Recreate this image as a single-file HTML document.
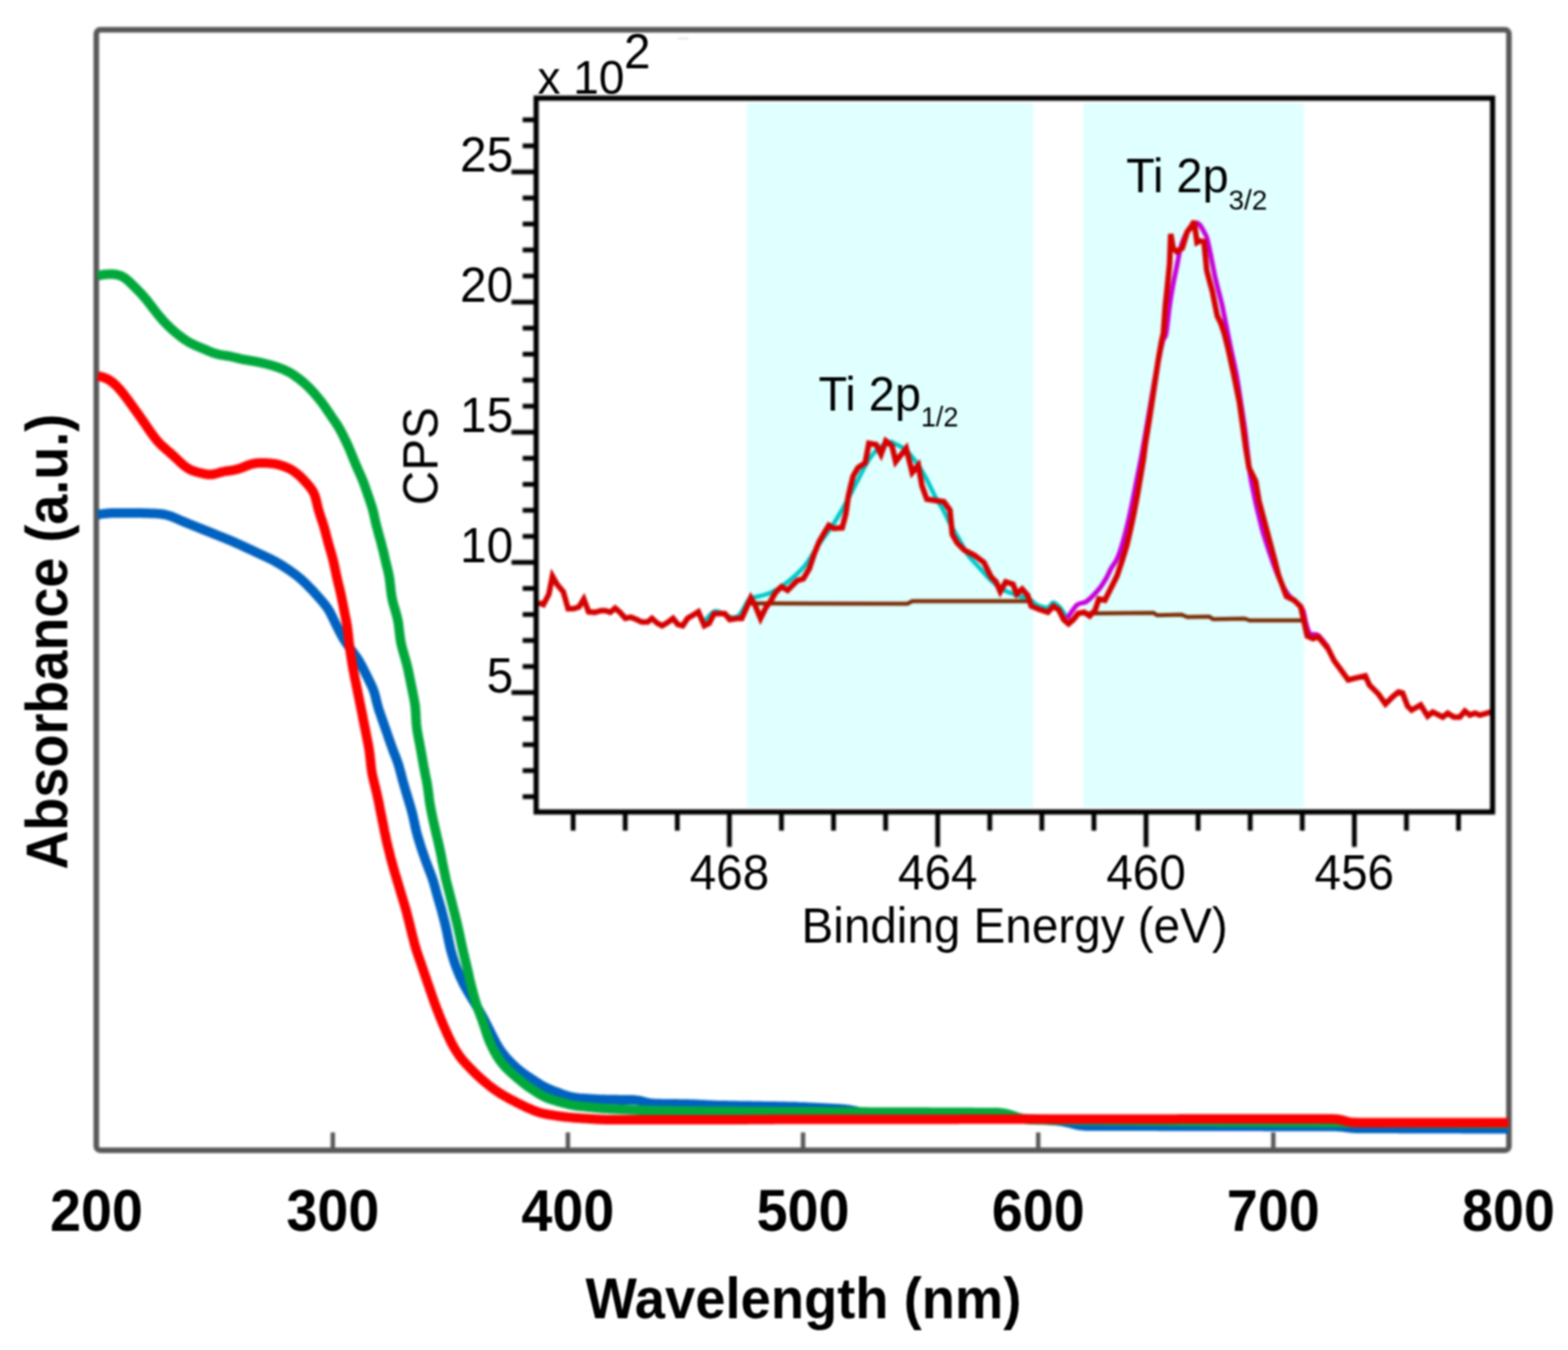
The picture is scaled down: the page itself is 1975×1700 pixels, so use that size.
<!DOCTYPE html><html><head><meta charset="utf-8"><title>UV-Vis absorbance and XPS Ti 2p</title>
<style>html,body{margin:0;padding:0;background:#fff;}body{width:1975px;height:1700px;overflow:hidden;}svg{display:block;}text{font-family:"Liberation Sans",Arial,sans-serif;}</style></head><body>
<svg xmlns="http://www.w3.org/2000/svg" width="1975" height="1700" viewBox="0 0 1975 1700">
<defs><filter id="bl" x="-2%" y="-2%" width="104%" height="104%" color-interpolation-filters="sRGB"><feGaussianBlur stdDeviation="1.8"/></filter><filter id="bt" x="-2%" y="-2%" width="104%" height="104%" color-interpolation-filters="sRGB"><feGaussianBlur stdDeviation="1.0"/></filter></defs>
<rect x="0" y="0" width="1975" height="1700" fill="#fff"/>
<g filter="url(#bl)">
<line x1="853" y1="48.5" x2="867" y2="48.5" stroke="#d8d8d8" stroke-width="1.5"/>
<rect x="121.3" y="37.6" width="1779.3" height="1410.8" rx="5" ry="5" fill="none" stroke="#575757" stroke-width="7"/>
<line x1="419.2" y1="1426" x2="419.2" y2="1448" stroke="#575757" stroke-width="5.5"/>
<line x1="715.3" y1="1426" x2="715.3" y2="1448" stroke="#575757" stroke-width="5.5"/>
<line x1="1011.5" y1="1426" x2="1011.5" y2="1448" stroke="#575757" stroke-width="5.5"/>
<line x1="1307.7" y1="1426" x2="1307.7" y2="1448" stroke="#575757" stroke-width="5.5"/>
<line x1="1603.8" y1="1426" x2="1603.8" y2="1448" stroke="#575757" stroke-width="5.5"/>
<polyline points="123.0,648.0 125.0,647.7 127.0,647.4 128.9,647.1 130.9,646.9 132.9,646.7 134.9,646.5 136.9,646.3 138.9,646.2 140.9,646.1 142.9,646.1 144.9,646.0 146.9,646.0 148.9,646.0 150.9,646.0 152.9,646.0 154.9,645.9 156.9,645.9 158.9,645.9 160.9,645.9 162.9,645.9 164.9,645.9 166.9,645.9 168.9,646.0 170.9,646.0 172.9,646.0 174.9,646.1 176.9,646.1 178.9,646.1 180.9,646.2 182.9,646.2 184.9,646.3 186.9,646.3 188.9,646.4 190.9,646.5 192.9,646.5 194.9,646.6 196.9,646.7 198.9,646.9 200.9,647.0 202.9,647.2 204.8,647.5 206.8,647.8 208.7,648.2 210.6,648.7 212.5,649.2 214.4,649.8 216.3,650.5 218.1,651.2 219.9,652.0 221.8,652.8 223.6,653.6 225.4,654.4 227.3,655.2 229.1,656.0 230.9,656.8 232.8,657.5 234.6,658.3 236.5,659.1 238.4,659.8 240.2,660.5 242.1,661.3 243.9,662.0 245.8,662.8 247.6,663.5 249.5,664.3 251.4,665.0 253.2,665.8 255.1,666.5 256.9,667.3 258.8,668.0 260.7,668.7 262.5,669.5 264.4,670.2 266.2,671.0 268.1,671.7 269.9,672.5 271.8,673.2 273.7,674.0 275.5,674.7 277.4,675.5 279.2,676.2 281.1,676.9 282.9,677.7 284.8,678.4 286.7,679.2 288.5,680.0 290.4,680.7 292.2,681.5 294.0,682.3 295.9,683.1 297.7,683.9 299.5,684.7 301.4,685.5 303.2,686.4 305.0,687.2 306.8,688.1 308.6,688.9 310.4,689.8 312.3,690.6 314.1,691.4 315.9,692.3 317.7,693.1 319.5,694.0 321.3,694.8 323.1,695.7 325.0,696.5 326.8,697.4 328.6,698.2 330.4,699.1 332.2,699.9 334.0,700.7 335.8,701.6 337.6,702.5 339.4,703.3 341.2,704.2 343.0,705.1 344.8,706.0 346.6,707.0 348.3,708.0 350.0,709.0 351.8,710.0 353.5,711.0 355.2,712.0 356.9,713.1 358.6,714.2 360.2,715.3 361.9,716.4 363.6,717.5 365.2,718.6 366.8,719.8 368.5,721.0 370.1,722.1 371.7,723.3 373.3,724.5 374.8,725.8 376.4,727.0 377.9,728.3 379.4,729.6 380.9,731.0 382.4,732.3 383.8,733.7 385.3,735.1 386.7,736.5 388.1,737.9 389.5,739.4 390.9,740.8 392.3,742.2 393.7,743.7 395.0,745.1 396.4,746.6 397.7,748.1 399.1,749.6 400.4,751.1 401.7,752.6 403.1,754.1 404.4,755.6 405.7,757.1 407.0,758.6 408.2,760.2 409.5,761.7 410.7,763.3 411.8,764.9 413.0,766.5 414.0,768.2 415.0,769.9 416.0,771.7 416.9,773.4 417.8,775.2 418.7,777.0 419.5,778.8 420.4,780.6 421.3,782.4 422.1,784.2 423.0,786.0 423.9,787.8 424.8,789.6 425.7,791.4 426.6,793.2 427.5,794.9 428.4,796.7 429.4,798.5 430.3,800.3 431.3,802.0 432.3,803.7 433.3,805.4 434.4,807.1 435.5,808.8 436.7,810.4 437.8,812.0 439.0,813.7 440.2,815.3 441.4,816.9 442.5,818.5 443.7,820.1 444.9,821.7 446.1,823.3 447.3,824.9 448.4,826.6 449.6,828.2 450.7,829.9 451.7,831.6 452.8,833.3 453.7,835.0 454.7,836.7 455.6,838.5 456.6,840.3 457.5,842.1 458.4,843.9 459.3,845.6 460.2,847.4 461.1,849.2 462.0,851.0 462.9,852.8 463.8,854.6 464.6,856.4 465.5,858.2 466.4,860.0 467.3,861.8 468.1,863.6 468.9,865.4 469.7,867.2 470.4,869.1 471.0,871.0 471.7,872.9 472.2,874.8 472.7,876.7 473.2,878.6 473.7,880.6 474.1,882.5 474.6,884.5 475.1,886.4 475.6,888.3 476.2,890.2 476.7,892.1 477.3,894.1 478.0,896.0 478.6,897.9 479.3,899.7 479.9,901.6 480.6,903.5 481.2,905.4 481.9,907.3 482.5,909.2 483.2,911.1 483.9,913.0 484.5,914.9 485.2,916.8 485.8,918.6 486.5,920.5 487.2,922.4 487.8,924.3 488.5,926.2 489.1,928.1 489.8,930.0 490.4,931.9 491.1,933.8 491.8,935.7 492.4,937.5 493.1,939.4 493.8,941.3 494.5,943.2 495.2,945.1 495.9,946.9 496.6,948.8 497.4,950.7 498.1,952.5 498.8,954.4 499.5,956.3 500.2,958.1 500.9,960.0 501.5,961.9 502.1,963.8 502.7,965.7 503.2,967.7 503.7,969.6 504.3,971.5 504.8,973.5 505.3,975.4 505.8,977.3 506.3,979.3 506.8,981.2 507.3,983.1 507.9,985.1 508.4,987.0 509.0,988.9 509.5,990.8 510.1,992.7 510.7,994.7 511.2,996.6 511.8,998.5 512.4,1000.4 512.9,1002.3 513.5,1004.3 514.1,1006.2 514.7,1008.1 515.2,1010.0 515.8,1011.9 516.4,1013.8 517.0,1015.8 517.5,1017.7 518.1,1019.6 518.6,1021.5 519.1,1023.5 519.6,1025.4 520.1,1027.4 520.5,1029.3 520.9,1031.3 521.4,1033.2 521.8,1035.2 522.2,1037.1 522.6,1039.1 523.0,1041.0 523.5,1043.0 523.9,1044.9 524.4,1046.9 524.9,1048.8 525.5,1050.7 526.0,1052.7 526.6,1054.6 527.1,1056.5 527.7,1058.4 528.3,1060.3 528.9,1062.3 529.5,1064.2 530.1,1066.1 530.7,1068.0 531.3,1069.9 532.0,1071.8 532.6,1073.7 533.3,1075.6 533.9,1077.4 534.6,1079.3 535.3,1081.2 535.9,1083.1 536.6,1085.0 537.3,1086.9 538.0,1088.8 538.7,1090.6 539.4,1092.5 540.1,1094.4 540.9,1096.2 541.6,1098.1 542.3,1100.0 543.0,1101.8 543.7,1103.7 544.4,1105.6 545.0,1107.5 545.6,1109.4 546.2,1111.3 546.8,1113.2 547.3,1115.1 547.9,1117.1 548.4,1119.0 548.9,1120.9 549.4,1122.9 549.9,1124.8 550.5,1126.7 551.0,1128.6 551.6,1130.6 552.1,1132.5 552.7,1134.4 553.3,1136.3 553.8,1138.2 554.4,1140.2 555.0,1142.1 555.5,1144.0 556.1,1145.9 556.6,1147.9 557.1,1149.8 557.6,1151.7 558.1,1153.7 558.6,1155.6 559.1,1157.5 559.6,1159.5 560.1,1161.4 560.6,1163.4 561.0,1165.3 561.5,1167.3 561.9,1169.2 562.4,1171.2 562.8,1173.1 563.2,1175.1 563.6,1177.0 564.0,1179.0 564.4,1181.0 564.8,1182.9 565.2,1184.9 565.6,1186.8 566.1,1188.8 566.5,1190.8 566.9,1192.7 567.4,1194.6 567.9,1196.6 568.4,1198.5 569.0,1200.4 569.5,1202.4 570.1,1204.3 570.7,1206.2 571.3,1208.1 571.9,1210.0 572.5,1211.9 573.1,1213.8 573.8,1215.7 574.5,1217.6 575.2,1219.4 575.9,1221.3 576.7,1223.2 577.4,1225.0 578.2,1226.8 579.0,1228.7 579.8,1230.5 580.7,1232.3 581.5,1234.1 582.4,1235.9 583.2,1237.7 584.1,1239.5 585.1,1241.3 586.0,1243.0 587.0,1244.8 588.0,1246.5 589.0,1248.3 590.0,1250.0 591.0,1251.7 592.1,1253.4 593.1,1255.1 594.1,1256.9 595.1,1258.6 596.2,1260.3 597.2,1262.0 598.2,1263.7 599.3,1265.4 600.3,1267.2 601.3,1268.9 602.3,1270.6 603.4,1272.3 604.4,1274.0 605.4,1275.8 606.4,1277.5 607.3,1279.3 608.3,1281.0 609.3,1282.8 610.2,1284.5 611.1,1286.3 612.0,1288.1 612.9,1289.9 613.8,1291.7 614.7,1293.5 615.6,1295.3 616.5,1297.0 617.4,1298.8 618.3,1300.6 619.2,1302.4 620.1,1304.2 621.0,1306.0 621.9,1307.8 622.8,1309.6 623.7,1311.3 624.7,1313.1 625.6,1314.9 626.6,1316.6 627.6,1318.3 628.7,1320.0 629.8,1321.6 630.9,1323.3 632.1,1324.9 633.3,1326.5 634.6,1328.0 635.8,1329.6 637.1,1331.1 638.4,1332.6 639.7,1334.1 641.1,1335.6 642.5,1337.0 643.9,1338.4 645.3,1339.8 646.7,1341.2 648.2,1342.6 649.7,1343.9 651.2,1345.3 652.7,1346.6 654.2,1347.8 655.8,1349.1 657.4,1350.3 659.0,1351.5 660.6,1352.6 662.3,1353.8 663.9,1354.9 665.6,1356.0 667.2,1357.1 668.9,1358.2 670.6,1359.3 672.2,1360.4 673.9,1361.5 675.6,1362.6 677.3,1363.7 679.0,1364.7 680.7,1365.8 682.4,1366.8 684.1,1367.8 685.9,1368.7 687.7,1369.6 689.5,1370.5 691.3,1371.3 693.1,1372.1 695.0,1372.9 696.8,1373.6 698.7,1374.3 700.6,1375.0 702.4,1375.7 704.3,1376.4 706.2,1377.1 708.1,1377.8 709.9,1378.5 711.8,1379.1 713.7,1379.8 715.6,1380.3 717.5,1380.9 719.5,1381.3 721.4,1381.7 723.3,1382.1 725.3,1382.3 727.3,1382.6 729.3,1382.8 731.3,1382.9 733.3,1383.1 735.2,1383.2 737.2,1383.3 739.2,1383.5 741.2,1383.6 743.2,1383.7 745.2,1383.8 747.2,1383.9 749.2,1384.0 751.2,1384.2 753.2,1384.3 755.2,1384.4 757.2,1384.4 759.2,1384.5 761.2,1384.6 763.2,1384.7 765.2,1384.7 767.2,1384.7 769.2,1384.8 771.2,1384.8 773.2,1384.8 775.2,1384.8 777.2,1384.8 779.2,1384.9 781.2,1384.9 783.3,1384.9 785.3,1384.9 787.3,1384.9 789.3,1384.9 791.3,1385.0 793.3,1385.0 795.2,1385.0 797.2,1385.1 799.2,1385.2 801.1,1385.4 803.0,1385.6 804.9,1385.9 806.7,1386.3 808.5,1386.7 810.3,1387.2 812.1,1387.7 813.9,1388.2 815.7,1388.6 817.5,1389.0 819.4,1389.3 821.3,1389.5 823.3,1389.6 825.2,1389.7 827.2,1389.8 829.2,1389.8 831.2,1389.8 833.2,1389.9 835.2,1389.9 837.2,1389.9 839.2,1389.9 841.2,1390.0 843.2,1390.0 845.2,1390.0 847.2,1390.1 849.2,1390.1 851.2,1390.1 853.2,1390.1 855.2,1390.2 857.2,1390.2 859.2,1390.2 861.2,1390.2 863.2,1390.3 865.2,1390.3 867.2,1390.3 869.2,1390.4 871.2,1390.5 873.2,1390.5 875.2,1390.6 877.2,1390.7 879.2,1390.8 881.2,1390.9 883.2,1391.0 885.2,1391.1 887.2,1391.2 889.2,1391.3 891.2,1391.4 893.2,1391.5 895.2,1391.6 897.2,1391.7 899.2,1391.8 901.2,1391.8 903.2,1391.9 905.2,1391.9 907.2,1392.0 909.2,1392.0 911.2,1392.1 913.2,1392.1 915.2,1392.1 917.2,1392.2 919.3,1392.2 921.3,1392.2 923.3,1392.3 925.3,1392.3 927.3,1392.3 929.3,1392.4 931.3,1392.4 933.3,1392.4 935.3,1392.5 937.3,1392.5 939.3,1392.5 941.3,1392.6 943.3,1392.6 945.3,1392.6 947.3,1392.7 949.3,1392.7 951.3,1392.7 953.3,1392.8 955.3,1392.8 957.3,1392.8 959.3,1392.8 961.3,1392.9 963.3,1392.9 965.3,1392.9 967.3,1393.0 969.3,1393.0 971.3,1393.0 973.3,1393.1 975.3,1393.1 977.3,1393.1 979.3,1393.2 981.3,1393.2 983.3,1393.2 985.3,1393.3 987.3,1393.3 989.3,1393.3 991.3,1393.4 993.3,1393.4 995.3,1393.5 997.3,1393.5 999.3,1393.6 1001.3,1393.6 1003.3,1393.7 1005.3,1393.8 1007.3,1393.9 1009.3,1394.0 1011.3,1394.0 1013.3,1394.1 1015.3,1394.2 1017.3,1394.3 1019.3,1394.4 1021.3,1394.5 1023.3,1394.6 1025.3,1394.7 1027.3,1394.8 1029.3,1394.9 1031.3,1395.0 1033.3,1395.1 1035.3,1395.2 1037.3,1395.3 1039.3,1395.4 1041.3,1395.5 1043.3,1395.6 1045.3,1395.7 1047.3,1395.8 1049.3,1395.9 1051.3,1396.0 1053.3,1396.1 1055.3,1396.2 1057.3,1396.3 1059.3,1396.4 1061.3,1396.6 1063.3,1396.7 1065.3,1397.0 1067.2,1397.2 1069.2,1397.5 1071.2,1397.8 1073.2,1398.2 1075.1,1398.6 1077.1,1399.0 1079.0,1399.4 1081.0,1399.8 1082.9,1400.2 1084.9,1400.7 1086.9,1401.1 1088.8,1401.5 1090.8,1401.9 1092.7,1402.3 1094.7,1402.7 1096.7,1403.0 1098.6,1403.3 1100.6,1403.5 1102.6,1403.7 1104.6,1403.9 1106.6,1404.0 1108.6,1404.1 1110.6,1404.2 1112.6,1404.3 1114.6,1404.4 1116.6,1404.4 1118.6,1404.5 1120.6,1404.5 1122.6,1404.6 1124.6,1404.6 1126.6,1404.7 1128.6,1404.7 1130.6,1404.8 1132.6,1404.8 1134.6,1404.9 1136.6,1404.9 1138.6,1405.0 1140.6,1405.0 1142.6,1405.1 1144.6,1405.1 1146.6,1405.2 1148.6,1405.2 1150.6,1405.3 1152.6,1405.3 1154.6,1405.4 1156.6,1405.4 1158.6,1405.5 1160.6,1405.5 1162.6,1405.6 1164.6,1405.6 1166.6,1405.7 1168.6,1405.7 1170.6,1405.8 1172.6,1405.8 1174.6,1405.9 1176.6,1405.9 1178.6,1406.0 1180.6,1406.0 1182.6,1406.1 1184.6,1406.1 1186.6,1406.2 1188.6,1406.2 1190.6,1406.3 1192.6,1406.3 1194.6,1406.4 1196.6,1406.4 1198.6,1406.5 1200.6,1406.5 1202.6,1406.6 1204.6,1406.6 1206.6,1406.7 1208.6,1406.7 1210.6,1406.8 1212.6,1406.8 1214.6,1406.9 1216.6,1406.9 1218.6,1407.0 1220.6,1407.0 1222.6,1407.1 1224.6,1407.1 1226.6,1407.2 1228.6,1407.2 1230.6,1407.3 1232.6,1407.3 1234.6,1407.4 1236.6,1407.4 1238.6,1407.5 1240.6,1407.5 1242.7,1407.6 1244.7,1407.6 1246.7,1407.7 1248.7,1407.7 1250.7,1407.8 1252.7,1407.8 1254.7,1407.9 1256.7,1407.9 1258.7,1408.0 1260.7,1408.0 1262.7,1408.1 1264.7,1408.1 1266.7,1408.2 1268.7,1408.2 1270.7,1408.3 1272.7,1408.3 1274.7,1408.4 1276.7,1408.4 1278.7,1408.5 1280.7,1408.5 1282.7,1408.6 1284.7,1408.6 1286.7,1408.7 1288.7,1408.7 1290.7,1408.8 1292.7,1408.8 1294.7,1408.9 1296.7,1409.0 1298.7,1409.1 1300.7,1409.2 1302.7,1409.3 1304.7,1409.4 1306.7,1409.5 1308.7,1409.7 1310.7,1409.8 1312.7,1410.0 1314.7,1410.1 1316.7,1410.3 1318.7,1410.4 1320.7,1410.5 1322.6,1410.7 1324.6,1410.9 1326.6,1411.0 1328.6,1411.2 1330.6,1411.4 1332.6,1411.6 1334.6,1411.8 1336.6,1412.0 1338.5,1412.4 1340.5,1412.7 1342.4,1413.1 1344.4,1413.5 1346.3,1414.0 1348.3,1414.5 1350.2,1415.0 1352.1,1415.5 1354.0,1416.0 1356.0,1416.5 1357.9,1416.8 1359.9,1417.2 1361.8,1417.4 1363.8,1417.6 1365.8,1417.8 1367.8,1417.9 1369.8,1417.9 1371.8,1418.0 1373.8,1418.0 1375.8,1418.0 1377.8,1418.0 1379.8,1418.0 1381.8,1418.0 1383.8,1418.0 1385.8,1418.0 1387.8,1418.0 1389.8,1418.0 1391.8,1418.0 1393.8,1418.1 1395.8,1418.1 1397.8,1418.1 1399.8,1418.1 1401.8,1418.1 1403.8,1418.1 1405.8,1418.1 1407.8,1418.1 1409.8,1418.1 1411.8,1418.1 1413.8,1418.1 1415.8,1418.1 1417.8,1418.1 1419.8,1418.1 1421.8,1418.1 1423.8,1418.1 1425.8,1418.1 1427.8,1418.1 1429.8,1418.1 1431.8,1418.1 1433.8,1418.1 1435.8,1418.1 1437.8,1418.1 1439.8,1418.1 1441.8,1418.1 1443.8,1418.1 1445.8,1418.1 1447.8,1418.1 1449.9,1418.1 1451.9,1418.1 1453.9,1418.1 1455.9,1418.1 1457.9,1418.1 1459.9,1418.2 1461.9,1418.2 1463.9,1418.2 1465.9,1418.2 1467.9,1418.2 1469.9,1418.2 1471.9,1418.2 1473.9,1418.2 1475.9,1418.2 1477.9,1418.2 1479.9,1418.2 1481.9,1418.2 1483.9,1418.2 1485.9,1418.2 1487.9,1418.2 1489.9,1418.2 1491.9,1418.2 1493.9,1418.2 1495.9,1418.2 1497.9,1418.2 1499.9,1418.2 1501.9,1418.2 1503.9,1418.2 1505.9,1418.2 1507.9,1418.2 1509.9,1418.2 1511.9,1418.2 1513.9,1418.2 1515.9,1418.2 1517.9,1418.2 1519.9,1418.2 1521.9,1418.2 1523.9,1418.2 1525.9,1418.3 1527.9,1418.3 1529.9,1418.3 1531.9,1418.3 1533.9,1418.3 1535.9,1418.3 1537.9,1418.3 1539.9,1418.3 1541.9,1418.3 1543.9,1418.3 1545.9,1418.3 1548.0,1418.3 1550.0,1418.3 1552.0,1418.3 1554.0,1418.3 1556.0,1418.3 1558.0,1418.3 1560.0,1418.3 1562.0,1418.3 1564.0,1418.3 1566.0,1418.3 1568.0,1418.3 1570.0,1418.3 1572.0,1418.3 1574.0,1418.3 1576.0,1418.3 1578.0,1418.3 1580.0,1418.3 1582.0,1418.3 1584.0,1418.3 1586.0,1418.3 1588.0,1418.3 1590.0,1418.3 1592.0,1418.4 1594.0,1418.4 1596.0,1418.4 1598.0,1418.4 1600.0,1418.4 1602.0,1418.4 1604.0,1418.4 1606.0,1418.4 1608.0,1418.4 1610.0,1418.4 1612.0,1418.4 1614.0,1418.4 1616.0,1418.4 1618.0,1418.4 1620.0,1418.4 1622.0,1418.4 1624.0,1418.4 1626.0,1418.4 1628.0,1418.4 1630.0,1418.4 1632.0,1418.4 1634.0,1418.4 1636.0,1418.4 1638.0,1418.4 1640.0,1418.4 1642.0,1418.4 1644.0,1418.4 1646.1,1418.4 1648.1,1418.4 1650.1,1418.4 1652.1,1418.4 1654.1,1418.4 1656.1,1418.4 1658.1,1418.5 1660.1,1418.5 1662.1,1418.5 1664.1,1418.5 1666.1,1418.5 1668.1,1418.5 1670.1,1418.5 1672.1,1418.5 1674.1,1418.5 1676.1,1418.5 1678.1,1418.5 1680.1,1418.5 1682.1,1418.6 1684.1,1418.7 1686.1,1418.8 1688.0,1418.9 1690.0,1419.1 1692.0,1419.4 1694.0,1419.6 1695.9,1419.9 1697.9,1420.1 1699.9,1420.4 1701.9,1420.6 1703.8,1420.7 1705.8,1420.8 1707.8,1420.9 1709.8,1421.0 1711.8,1421.0 1713.8,1421.0 1715.8,1421.0 1717.8,1421.0 1719.8,1421.0 1721.8,1421.1 1723.8,1421.1 1725.8,1421.1 1727.8,1421.1 1729.8,1421.1 1731.8,1421.1 1733.8,1421.1 1735.8,1421.1 1737.8,1421.1 1739.8,1421.1 1741.8,1421.1 1743.8,1421.1 1745.8,1421.1 1747.8,1421.1 1749.8,1421.1 1751.8,1421.1 1753.9,1421.1 1755.9,1421.1 1757.9,1421.1 1759.9,1421.1 1761.9,1421.2 1763.9,1421.2 1765.9,1421.2 1767.9,1421.2 1769.9,1421.2 1771.9,1421.2 1773.9,1421.2 1775.9,1421.2 1777.9,1421.2 1779.9,1421.2 1781.9,1421.2 1783.9,1421.2 1785.9,1421.2 1787.9,1421.2 1789.9,1421.2 1791.9,1421.2 1793.9,1421.2 1795.9,1421.2 1797.9,1421.2 1799.9,1421.2 1801.9,1421.3 1803.9,1421.3 1805.9,1421.3 1807.9,1421.3 1809.9,1421.3 1811.9,1421.3 1813.9,1421.3 1815.9,1421.3 1817.9,1421.3 1819.9,1421.3 1821.9,1421.3 1823.9,1421.3 1825.9,1421.3 1827.9,1421.3 1829.9,1421.3 1831.9,1421.3 1833.9,1421.3 1835.9,1421.3 1837.9,1421.3 1839.9,1421.3 1841.9,1421.4 1843.9,1421.4 1845.9,1421.4 1847.9,1421.4 1849.9,1421.4 1852.0,1421.4 1854.0,1421.4 1856.0,1421.4 1858.0,1421.4 1860.0,1421.4 1862.0,1421.4 1864.0,1421.4 1866.0,1421.4 1868.0,1421.4 1870.0,1421.4 1872.0,1421.4 1874.0,1421.4 1876.0,1421.4 1878.0,1421.4 1880.0,1421.4 1882.0,1421.5 1884.0,1421.5 1886.0,1421.5 1888.0,1421.5 1890.0,1421.5 1892.0,1421.5 1894.0,1421.5 1896.0,1421.5 1898.0,1421.5 1900.0,1421.5" fill="none" stroke="#0062c0" stroke-width="12" stroke-linejoin="round" stroke-linecap="butt"/>
<polyline points="123.0,347.2 124.9,346.8 126.9,346.4 128.9,346.1 130.8,345.8 132.8,345.5 134.8,345.4 136.7,345.2 138.7,345.2 140.7,345.2 142.7,345.3 144.6,345.5 146.6,345.8 148.5,346.2 150.3,346.7 152.1,347.4 153.9,348.1 155.5,349.1 157.2,350.1 158.7,351.2 160.2,352.5 161.7,353.8 163.2,355.1 164.6,356.5 166.0,357.9 167.5,359.3 168.9,360.7 170.3,362.1 171.7,363.5 173.1,364.9 174.5,366.4 175.9,367.8 177.3,369.2 178.7,370.7 180.0,372.2 181.3,373.7 182.6,375.2 183.9,376.8 185.2,378.3 186.4,379.9 187.6,381.5 188.8,383.0 190.1,384.6 191.3,386.2 192.5,387.8 193.7,389.4 195.0,391.0 196.2,392.5 197.4,394.1 198.7,395.7 199.9,397.2 201.2,398.8 202.5,400.3 203.8,401.8 205.1,403.3 206.5,404.8 207.9,406.3 209.2,407.7 210.6,409.1 212.1,410.5 213.5,411.9 215.0,413.3 216.4,414.6 217.9,416.0 219.4,417.3 220.9,418.6 222.5,419.9 224.0,421.1 225.6,422.4 227.2,423.6 228.8,424.8 230.4,426.0 232.0,427.1 233.7,428.2 235.4,429.3 237.1,430.3 238.8,431.3 240.5,432.3 242.3,433.2 244.1,434.0 245.9,434.9 247.8,435.7 249.6,436.5 251.4,437.2 253.3,438.0 255.1,438.8 257.0,439.5 258.8,440.3 260.7,441.1 262.5,441.9 264.3,442.7 266.2,443.4 268.0,444.2 269.9,444.8 271.8,445.4 273.7,445.9 275.6,446.4 277.5,446.8 279.5,447.1 281.4,447.4 283.4,447.7 285.4,448.0 287.3,448.3 289.3,448.7 291.2,449.0 293.2,449.5 295.1,450.0 297.0,450.4 298.9,450.9 300.9,451.4 302.8,451.9 304.7,452.3 306.7,452.7 308.7,453.0 310.6,453.3 312.6,453.7 314.6,454.0 316.5,454.3 318.5,454.7 320.5,455.0 322.5,455.4 324.4,455.8 326.4,456.2 328.3,456.6 330.3,457.1 332.2,457.5 334.2,458.0 336.1,458.5 338.0,459.0 340.0,459.5 341.9,460.0 343.8,460.6 345.7,461.2 347.6,461.8 349.5,462.4 351.4,463.1 353.3,463.8 355.1,464.5 357.0,465.3 358.8,466.1 360.6,466.9 362.4,467.8 364.2,468.7 365.9,469.7 367.6,470.7 369.3,471.8 370.9,472.9 372.5,474.1 374.2,475.2 375.8,476.4 377.4,477.6 378.9,478.9 380.5,480.1 382.0,481.4 383.5,482.7 385.0,484.1 386.4,485.4 387.9,486.8 389.3,488.2 390.7,489.7 392.1,491.1 393.4,492.6 394.8,494.0 396.1,495.5 397.4,497.1 398.7,498.6 400.0,500.1 401.3,501.7 402.5,503.2 403.8,504.8 405.0,506.4 406.2,508.0 407.4,509.6 408.5,511.2 409.7,512.9 410.8,514.5 411.9,516.2 413.0,517.8 414.2,519.5 415.3,521.1 416.4,522.8 417.5,524.5 418.7,526.1 419.8,527.8 420.9,529.4 422.1,531.1 423.2,532.7 424.3,534.4 425.3,536.1 426.4,537.8 427.4,539.5 428.4,541.2 429.3,543.0 430.3,544.8 431.2,546.5 432.1,548.3 433.0,550.1 433.8,551.9 434.7,553.7 435.6,555.5 436.5,557.3 437.3,559.1 438.1,561.0 439.0,562.8 439.8,564.6 440.5,566.5 441.3,568.3 442.1,570.2 442.8,572.0 443.6,573.9 444.3,575.7 445.1,577.6 445.8,579.4 446.6,581.3 447.4,583.1 448.1,585.0 448.9,586.8 449.7,588.7 450.5,590.5 451.3,592.3 452.2,594.1 453.0,596.0 453.8,597.8 454.6,599.6 455.4,601.5 456.2,603.3 456.9,605.2 457.7,607.0 458.4,608.9 459.1,610.8 459.7,612.6 460.4,614.5 461.0,616.4 461.7,618.3 462.3,620.2 463.0,622.1 463.6,624.0 464.3,625.9 465.0,627.8 465.6,629.7 466.3,631.6 466.9,633.5 467.5,635.4 468.2,637.3 468.7,639.2 469.3,641.1 469.8,643.0 470.3,645.0 470.7,646.9 471.2,648.9 471.6,650.8 472.0,652.8 472.5,654.7 472.9,656.7 473.4,658.6 473.8,660.6 474.3,662.5 474.8,664.4 475.4,666.4 475.9,668.3 476.4,670.2 476.9,672.2 477.5,674.1 478.0,676.0 478.5,678.0 479.1,679.9 479.6,681.8 480.1,683.7 480.6,685.7 481.1,687.6 481.6,689.6 482.1,691.5 482.6,693.4 483.1,695.4 483.5,697.3 484.0,699.3 484.4,701.2 484.9,703.2 485.3,705.1 485.8,707.1 486.2,709.0 486.7,711.0 487.2,712.9 487.7,714.9 488.1,716.8 488.6,718.8 489.1,720.7 489.5,722.6 489.9,724.6 490.2,726.6 490.6,728.5 490.8,730.5 491.1,732.5 491.3,734.5 491.5,736.5 491.8,738.5 492.0,740.4 492.2,742.4 492.4,744.4 492.7,746.4 492.9,748.4 493.3,750.4 493.6,752.3 494.0,754.3 494.4,756.2 494.9,758.2 495.4,760.1 495.9,762.0 496.5,763.9 497.0,765.9 497.6,767.8 498.2,769.7 498.7,771.6 499.2,773.6 499.8,775.5 500.2,777.4 500.7,779.4 501.1,781.3 501.5,783.3 501.8,785.2 502.1,787.2 502.3,789.2 502.6,791.2 502.8,793.2 503.0,795.2 503.3,797.1 503.5,799.1 503.7,801.1 504.0,803.1 504.3,805.1 504.6,807.0 504.9,809.0 505.4,811.0 505.8,812.9 506.3,814.8 506.8,816.8 507.3,818.7 507.9,820.6 508.4,822.5 509.0,824.5 509.5,826.4 510.1,828.3 510.6,830.2 511.2,832.2 511.7,834.1 512.2,836.0 512.7,838.0 513.2,839.9 513.6,841.9 514.1,843.8 514.5,845.8 514.9,847.7 515.3,849.7 515.7,851.7 516.1,853.6 516.5,855.6 516.9,857.5 517.3,859.5 517.7,861.5 518.1,863.4 518.5,865.4 518.9,867.3 519.3,869.3 519.7,871.3 520.1,873.2 520.5,875.2 520.9,877.2 521.3,879.1 521.6,881.1 522.0,883.1 522.3,885.0 522.6,887.0 522.9,889.0 523.1,891.0 523.3,893.0 523.4,895.0 523.6,896.9 523.7,898.9 523.8,900.9 523.9,902.9 524.0,904.9 524.2,906.9 524.3,908.9 524.4,910.9 524.6,912.9 524.8,914.9 525.1,916.9 525.3,918.9 525.6,920.8 526.0,922.8 526.3,924.8 526.7,926.7 527.0,928.7 527.4,930.7 527.8,932.6 528.2,934.6 528.6,936.6 529.0,938.5 529.3,940.5 529.7,942.5 530.1,944.4 530.4,946.4 530.8,948.4 531.1,950.4 531.5,952.3 531.8,954.3 532.1,956.3 532.5,958.2 532.8,960.2 533.2,962.2 533.5,964.2 533.9,966.1 534.3,968.1 534.7,970.1 535.1,972.0 535.4,974.0 535.8,976.0 536.2,977.9 536.6,979.9 537.0,981.8 537.4,983.8 537.7,985.8 538.1,987.7 538.4,989.7 538.7,991.7 539.0,993.7 539.3,995.7 539.5,997.6 539.8,999.6 540.1,1001.6 540.3,1003.6 540.6,1005.6 540.8,1007.6 541.1,1009.5 541.4,1011.5 541.8,1013.5 542.1,1015.5 542.4,1017.4 542.8,1019.4 543.2,1021.4 543.6,1023.3 544.0,1025.3 544.4,1027.3 544.8,1029.2 545.2,1031.2 545.7,1033.1 546.1,1035.1 546.5,1037.0 547.0,1039.0 547.4,1040.9 547.9,1042.9 548.3,1044.8 548.8,1046.8 549.2,1048.7 549.7,1050.7 550.1,1052.6 550.6,1054.6 551.1,1056.5 551.5,1058.5 552.0,1060.4 552.4,1062.4 552.9,1064.3 553.3,1066.3 553.7,1068.3 554.2,1070.2 554.6,1072.2 555.0,1074.1 555.4,1076.1 555.8,1078.1 556.2,1080.0 556.5,1082.0 556.9,1084.0 557.3,1085.9 557.7,1087.9 558.1,1089.8 558.5,1091.8 558.9,1093.8 559.3,1095.7 559.7,1097.7 560.1,1099.7 560.5,1101.6 560.9,1103.6 561.3,1105.5 561.7,1107.5 562.2,1109.4 562.7,1111.4 563.2,1113.3 563.7,1115.3 564.2,1117.2 564.7,1119.1 565.2,1121.1 565.7,1123.0 566.2,1124.9 566.7,1126.9 567.2,1128.8 567.7,1130.8 568.2,1132.7 568.7,1134.6 569.2,1136.6 569.7,1138.5 570.2,1140.5 570.6,1142.4 571.1,1144.4 571.6,1146.3 572.1,1148.2 572.6,1150.2 573.1,1152.1 573.5,1154.1 574.0,1156.0 574.5,1158.0 575.0,1159.9 575.4,1161.9 575.9,1163.8 576.4,1165.7 576.8,1167.7 577.3,1169.6 577.7,1171.6 578.1,1173.6 578.6,1175.5 579.0,1177.5 579.4,1179.4 579.8,1181.4 580.2,1183.3 580.6,1185.3 581.0,1187.3 581.4,1189.2 581.9,1191.2 582.3,1193.1 582.7,1195.1 583.2,1197.0 583.6,1199.0 584.1,1200.9 584.6,1202.9 585.1,1204.8 585.5,1206.8 586.0,1208.7 586.5,1210.7 586.9,1212.6 587.4,1214.6 587.9,1216.5 588.3,1218.5 588.8,1220.4 589.2,1222.4 589.6,1224.3 590.1,1226.3 590.5,1228.2 590.9,1230.2 591.3,1232.1 591.8,1234.1 592.2,1236.1 592.7,1238.0 593.2,1239.9 593.7,1241.9 594.2,1243.8 594.7,1245.8 595.2,1247.7 595.7,1249.6 596.2,1251.6 596.8,1253.5 597.3,1255.4 597.9,1257.3 598.4,1259.3 599.0,1261.2 599.6,1263.1 600.2,1265.0 600.8,1266.9 601.4,1268.8 602.1,1270.7 602.8,1272.6 603.5,1274.4 604.2,1276.3 604.9,1278.2 605.6,1280.1 606.3,1281.9 607.0,1283.8 607.7,1285.7 608.3,1287.6 609.0,1289.5 609.6,1291.4 610.3,1293.3 610.9,1295.2 611.5,1297.1 612.1,1299.0 612.7,1300.9 613.4,1302.8 614.0,1304.7 614.7,1306.5 615.4,1308.4 616.2,1310.3 616.9,1312.1 617.7,1313.9 618.6,1315.8 619.4,1317.6 620.3,1319.4 621.2,1321.2 622.1,1322.9 623.0,1324.7 624.0,1326.4 625.0,1328.2 626.0,1329.9 627.1,1331.6 628.2,1333.2 629.3,1334.9 630.5,1336.5 631.7,1338.1 632.9,1339.6 634.2,1341.1 635.5,1342.6 636.9,1344.1 638.3,1345.5 639.7,1346.9 641.2,1348.3 642.6,1349.7 644.1,1351.0 645.6,1352.4 647.1,1353.7 648.6,1355.0 650.1,1356.3 651.6,1357.6 653.1,1358.9 654.7,1360.2 656.2,1361.5 657.8,1362.7 659.3,1364.0 660.9,1365.2 662.5,1366.4 664.1,1367.6 665.8,1368.7 667.4,1369.9 669.1,1371.0 670.7,1372.1 672.4,1373.2 674.1,1374.3 675.7,1375.4 677.4,1376.5 679.1,1377.5 680.9,1378.5 682.6,1379.5 684.4,1380.4 686.2,1381.3 688.0,1382.1 689.8,1382.8 691.7,1383.5 693.5,1384.2 695.4,1384.8 697.3,1385.4 699.3,1386.0 701.2,1386.6 703.1,1387.1 705.0,1387.7 706.9,1388.2 708.9,1388.8 710.8,1389.3 712.7,1389.8 714.7,1390.3 716.6,1390.8 718.6,1391.2 720.5,1391.6 722.5,1391.9 724.4,1392.2 726.4,1392.5 728.4,1392.8 730.4,1393.0 732.4,1393.2 734.4,1393.4 736.4,1393.6 738.4,1393.8 740.3,1394.0 742.3,1394.2 744.3,1394.4 746.3,1394.6 748.3,1394.8 750.3,1395.0 752.3,1395.2 754.3,1395.4 756.3,1395.6 758.3,1395.7 760.3,1395.9 762.3,1396.0 764.3,1396.1 766.3,1396.2 768.3,1396.3 770.3,1396.4 772.3,1396.5 774.3,1396.6 776.3,1396.7 778.3,1396.8 780.3,1396.8 782.3,1396.9 784.3,1397.0 786.3,1397.1 788.3,1397.2 790.3,1397.3 792.3,1397.3 794.3,1397.4 796.3,1397.5 798.3,1397.6 800.3,1397.7 802.3,1397.8 804.3,1397.8 806.3,1397.9 808.3,1398.0 810.3,1398.1 812.3,1398.2 814.3,1398.2 816.3,1398.3 818.3,1398.4 820.3,1398.4 822.3,1398.5 824.3,1398.5 826.3,1398.6 828.3,1398.6 830.3,1398.6 832.3,1398.7 834.3,1398.7 836.3,1398.7 838.3,1398.7 840.3,1398.8 842.3,1398.8 844.3,1398.8 846.3,1398.8 848.3,1398.9 850.3,1398.9 852.3,1398.9 854.3,1398.9 856.3,1399.0 858.3,1399.0 860.3,1399.0 862.3,1399.0 864.3,1399.1 866.3,1399.1 868.3,1399.1 870.4,1399.1 872.4,1399.2 874.4,1399.2 876.4,1399.2 878.4,1399.2 880.4,1399.3 882.4,1399.3 884.4,1399.3 886.4,1399.3 888.4,1399.4 890.4,1399.4 892.4,1399.4 894.4,1399.4 896.4,1399.4 898.4,1399.5 900.4,1399.5 902.4,1399.5 904.4,1399.5 906.4,1399.5 908.4,1399.5 910.4,1399.6 912.4,1399.6 914.4,1399.6 916.4,1399.6 918.4,1399.6 920.4,1399.6 922.4,1399.6 924.4,1399.6 926.4,1399.6 928.4,1399.6 930.4,1399.7 932.4,1399.7 934.4,1399.7 936.4,1399.7 938.4,1399.7 940.4,1399.7 942.4,1399.7 944.4,1399.7 946.4,1399.7 948.4,1399.7 950.4,1399.8 952.4,1399.8 954.4,1399.8 956.5,1399.8 958.5,1399.8 960.5,1399.8 962.5,1399.8 964.5,1399.8 966.5,1399.8 968.5,1399.8 970.5,1399.9 972.5,1399.9 974.5,1399.9 976.5,1399.9 978.5,1399.9 980.5,1399.9 982.5,1399.9 984.5,1399.9 986.5,1399.9 988.5,1399.9 990.5,1400.0 992.5,1400.0 994.5,1400.0 996.5,1400.0 998.5,1400.0 1000.5,1400.0 1002.5,1400.0 1004.5,1400.0 1006.5,1400.0 1008.5,1400.0 1010.5,1400.0 1012.5,1400.0 1014.5,1400.1 1016.5,1400.1 1018.5,1400.1 1020.5,1400.1 1022.5,1400.1 1024.5,1400.1 1026.5,1400.1 1028.5,1400.1 1030.5,1400.1 1032.5,1400.1 1034.5,1400.1 1036.5,1400.1 1038.6,1400.1 1040.6,1400.2 1042.6,1400.2 1044.6,1400.2 1046.6,1400.2 1048.6,1400.2 1050.6,1400.2 1052.6,1400.2 1054.6,1400.2 1056.6,1400.2 1058.6,1400.2 1060.6,1400.2 1062.6,1400.2 1064.6,1400.2 1066.6,1400.3 1068.6,1400.3 1070.6,1400.3 1072.6,1400.3 1074.6,1400.3 1076.6,1400.3 1078.6,1400.3 1080.6,1400.3 1082.6,1400.3 1084.6,1400.3 1086.6,1400.3 1088.6,1400.3 1090.6,1400.3 1092.6,1400.3 1094.6,1400.4 1096.6,1400.4 1098.6,1400.4 1100.6,1400.4 1102.6,1400.4 1104.6,1400.4 1106.6,1400.4 1108.6,1400.4 1110.6,1400.4 1112.6,1400.4 1114.6,1400.4 1116.6,1400.4 1118.6,1400.4 1120.6,1400.5 1122.7,1400.5 1124.7,1400.5 1126.7,1400.5 1128.7,1400.5 1130.7,1400.5 1132.7,1400.5 1134.7,1400.5 1136.7,1400.5 1138.7,1400.5 1140.7,1400.5 1142.7,1400.5 1144.7,1400.5 1146.7,1400.6 1148.7,1400.6 1150.7,1400.6 1152.7,1400.6 1154.7,1400.6 1156.7,1400.6 1158.7,1400.6 1160.7,1400.6 1162.7,1400.6 1164.7,1400.6 1166.7,1400.6 1168.7,1400.6 1170.7,1400.6 1172.7,1400.7 1174.7,1400.7 1176.7,1400.7 1178.7,1400.7 1180.7,1400.7 1182.7,1400.7 1184.7,1400.7 1186.7,1400.7 1188.7,1400.7 1190.7,1400.7 1192.7,1400.7 1194.7,1400.7 1196.7,1400.7 1198.7,1400.7 1200.7,1400.8 1202.7,1400.8 1204.8,1400.8 1206.8,1400.8 1208.8,1400.8 1210.8,1400.8 1212.8,1400.8 1214.8,1400.8 1216.8,1400.8 1218.8,1400.8 1220.8,1400.8 1222.8,1400.8 1224.8,1400.8 1226.8,1400.9 1228.8,1400.9 1230.8,1400.9 1232.8,1400.9 1234.8,1400.9 1236.8,1400.9 1238.8,1400.9 1240.8,1400.9 1242.8,1400.9 1244.8,1400.9 1246.8,1400.9 1248.8,1400.9 1250.8,1401.0 1252.8,1401.0 1254.8,1401.0 1256.8,1401.1 1258.8,1401.2 1260.7,1401.4 1262.7,1401.6 1264.7,1401.9 1266.6,1402.3 1268.5,1402.7 1270.4,1403.2 1272.3,1403.8 1274.2,1404.4 1276.1,1405.0 1278.0,1405.7 1279.9,1406.3 1281.8,1406.9 1283.7,1407.5 1285.6,1408.1 1287.5,1408.5 1289.5,1409.0 1291.4,1409.3 1293.4,1409.6 1295.3,1409.8 1297.3,1409.9 1299.3,1410.0 1301.3,1410.1 1303.3,1410.1 1305.3,1410.2 1307.3,1410.2 1309.3,1410.2 1311.3,1410.3 1313.3,1410.3 1315.3,1410.3 1317.3,1410.3 1319.3,1410.3 1321.3,1410.4 1323.3,1410.4 1325.3,1410.4 1327.3,1410.4 1329.3,1410.5 1331.3,1410.5 1333.3,1410.5 1335.3,1410.5 1337.3,1410.6 1339.3,1410.6 1341.3,1410.6 1343.3,1410.6 1345.3,1410.7 1347.3,1410.7 1349.4,1410.7 1351.4,1410.7 1353.4,1410.7 1355.4,1410.8 1357.4,1410.8 1359.4,1410.8 1361.4,1410.8 1363.4,1410.9 1365.4,1410.9 1367.4,1410.9 1369.4,1410.9 1371.4,1411.0 1373.4,1411.0 1375.4,1411.0 1377.4,1411.0 1379.4,1411.1 1381.4,1411.1 1383.4,1411.1 1385.4,1411.1 1387.4,1411.1 1389.4,1411.2 1391.4,1411.2 1393.4,1411.2 1395.4,1411.2 1397.4,1411.3 1399.4,1411.3 1401.4,1411.3 1403.4,1411.3 1405.4,1411.4 1407.4,1411.4 1409.4,1411.4 1411.4,1411.4 1413.4,1411.5 1415.4,1411.5 1417.4,1411.5 1419.4,1411.5 1421.4,1411.5 1423.4,1411.6 1425.4,1411.6 1427.4,1411.6 1429.4,1411.6 1431.4,1411.7 1433.4,1411.7 1435.5,1411.7 1437.5,1411.7 1439.5,1411.8 1441.5,1411.8 1443.5,1411.8 1445.5,1411.8 1447.5,1411.9 1449.5,1411.9 1451.5,1411.9 1453.5,1411.9 1455.5,1411.9 1457.5,1412.0 1459.5,1412.0 1461.5,1412.0 1463.5,1412.0 1465.5,1412.1 1467.5,1412.1 1469.5,1412.1 1471.5,1412.1 1473.5,1412.2 1475.5,1412.2 1477.5,1412.2 1479.5,1412.2 1481.5,1412.3 1483.5,1412.3 1485.5,1412.3 1487.5,1412.3 1489.5,1412.3 1491.5,1412.4 1493.5,1412.4 1495.5,1412.4 1497.5,1412.4 1499.5,1412.5 1501.5,1412.5 1503.5,1412.5 1505.5,1412.5 1507.5,1412.6 1509.5,1412.6 1511.5,1412.6 1513.5,1412.6 1515.5,1412.7 1517.5,1412.7 1519.5,1412.7 1521.5,1412.7 1523.6,1412.7 1525.6,1412.8 1527.6,1412.8 1529.6,1412.8 1531.6,1412.8 1533.6,1412.9 1535.6,1412.9 1537.6,1412.9 1539.6,1412.9 1541.6,1413.0 1543.6,1413.0 1545.6,1413.0 1547.6,1413.0 1549.6,1413.0 1551.6,1413.0 1553.6,1413.0 1555.6,1413.1 1557.6,1413.1 1559.6,1413.1 1561.6,1413.1 1563.6,1413.1 1565.6,1413.1 1567.6,1413.1 1569.6,1413.1 1571.6,1413.1 1573.6,1413.2 1575.6,1413.2 1577.6,1413.2 1579.6,1413.2 1581.6,1413.2 1583.6,1413.2 1585.6,1413.2 1587.6,1413.2 1589.6,1413.3 1591.6,1413.3 1593.6,1413.3 1595.6,1413.3 1597.6,1413.3 1599.6,1413.3 1601.6,1413.3 1603.6,1413.3 1605.6,1413.3 1607.7,1413.4 1609.7,1413.4 1611.7,1413.4 1613.7,1413.4 1615.7,1413.4 1617.7,1413.4 1619.7,1413.4 1621.7,1413.4 1623.7,1413.4 1625.7,1413.5 1627.7,1413.5 1629.7,1413.5 1631.7,1413.5 1633.7,1413.5 1635.7,1413.5 1637.7,1413.5 1639.7,1413.5 1641.7,1413.5 1643.7,1413.6 1645.7,1413.6 1647.7,1413.6 1649.7,1413.6 1651.7,1413.6 1653.7,1413.6 1655.7,1413.6 1657.7,1413.6 1659.7,1413.6 1661.7,1413.7 1663.7,1413.7 1665.7,1413.7 1667.7,1413.7 1669.7,1413.7 1671.7,1413.7 1673.7,1413.7 1675.7,1413.7 1677.7,1413.7 1679.7,1413.8 1681.7,1413.8 1683.7,1413.8 1685.7,1413.8 1687.7,1413.8 1689.7,1413.8 1691.8,1413.8 1693.8,1413.8 1695.8,1413.8 1697.8,1413.9 1699.8,1413.9 1701.8,1413.9 1703.8,1413.9 1705.8,1413.9 1707.8,1413.9 1709.8,1413.9 1711.8,1413.9 1713.8,1414.0 1715.8,1414.0 1717.8,1414.0 1719.8,1414.0 1721.8,1414.0 1723.8,1414.0 1725.8,1414.0 1727.8,1414.0 1729.8,1414.0 1731.8,1414.1 1733.8,1414.1 1735.8,1414.1 1737.8,1414.1 1739.8,1414.1 1741.8,1414.1 1743.8,1414.1 1745.8,1414.1 1747.8,1414.1 1749.8,1414.2 1751.8,1414.2 1753.8,1414.2 1755.8,1414.2 1757.8,1414.2 1759.8,1414.2 1761.8,1414.2 1763.8,1414.2 1765.8,1414.2 1767.8,1414.3 1769.8,1414.3 1771.8,1414.3 1773.8,1414.3 1775.9,1414.3 1777.9,1414.3 1779.9,1414.3 1781.9,1414.3 1783.9,1414.3 1785.9,1414.4 1787.9,1414.4 1789.9,1414.4 1791.9,1414.4 1793.9,1414.4 1795.9,1414.4 1797.9,1414.4 1799.9,1414.4 1801.9,1414.4 1803.9,1414.5 1805.9,1414.5 1807.9,1414.5 1809.9,1414.5 1811.9,1414.5 1813.9,1414.5 1815.9,1414.5 1817.9,1414.5 1819.9,1414.5 1821.9,1414.6 1823.9,1414.6 1825.9,1414.6 1827.9,1414.6 1829.9,1414.6 1831.9,1414.6 1833.9,1414.6 1835.9,1414.6 1837.9,1414.7 1839.9,1414.7 1841.9,1414.7 1843.9,1414.7 1845.9,1414.7 1847.9,1414.7 1849.9,1414.7 1851.9,1414.7 1853.9,1414.7 1855.9,1414.8 1857.9,1414.8 1860.0,1414.8 1862.0,1414.8 1864.0,1414.8 1866.0,1414.8 1868.0,1414.8 1870.0,1414.8 1872.0,1414.8 1874.0,1414.9 1876.0,1414.9 1878.0,1414.9 1880.0,1414.9 1882.0,1414.9 1884.0,1414.9 1886.0,1414.9 1888.0,1414.9 1890.0,1414.9 1892.0,1415.0 1894.0,1415.0 1896.0,1415.0 1898.0,1415.0 1900.0,1415.0" fill="none" stroke="#00a83c" stroke-width="12" stroke-linejoin="round" stroke-linecap="butt"/>
<polyline points="123.0,473.2 124.9,473.7 126.8,474.2 128.7,474.7 130.6,475.3 132.4,476.0 134.2,476.8 136.0,477.7 137.7,478.7 139.3,479.7 140.9,480.9 142.5,482.1 144.0,483.4 145.4,484.7 146.8,486.1 148.2,487.5 149.6,489.0 150.9,490.5 152.2,492.0 153.5,493.6 154.7,495.1 156.0,496.7 157.2,498.3 158.4,499.9 159.6,501.5 160.8,503.1 162.0,504.7 163.2,506.3 164.3,507.9 165.5,509.6 166.7,511.2 167.8,512.8 169.0,514.4 170.2,516.1 171.3,517.7 172.5,519.3 173.7,521.0 174.8,522.6 176.0,524.2 177.1,525.8 178.3,527.5 179.4,529.1 180.6,530.8 181.7,532.4 182.9,534.1 184.0,535.7 185.1,537.4 186.2,539.0 187.4,540.7 188.5,542.3 189.6,544.0 190.8,545.6 192.0,547.2 193.2,548.8 194.4,550.4 195.6,552.0 196.9,553.6 198.1,555.1 199.4,556.6 200.8,558.0 202.2,559.5 203.6,560.8 205.1,562.2 206.6,563.5 208.1,564.9 209.6,566.2 211.1,567.5 212.6,568.8 214.1,570.1 215.6,571.4 217.1,572.8 218.6,574.1 220.0,575.5 221.5,576.9 222.9,578.2 224.4,579.6 225.8,581.0 227.3,582.3 228.8,583.7 230.3,585.0 231.8,586.3 233.4,587.5 235.0,588.6 236.6,589.7 238.3,590.7 240.0,591.6 241.8,592.3 243.6,593.0 245.5,593.6 247.3,594.2 249.2,594.7 251.1,595.2 253.0,595.7 255.0,596.1 256.9,596.6 258.8,597.0 260.7,597.3 262.6,597.5 264.5,597.6 266.3,597.6 268.2,597.3 270.0,597.0 271.9,596.5 273.7,596.0 275.5,595.5 277.4,594.9 279.2,594.4 281.1,594.0 283.1,593.6 285.0,593.3 287.0,593.0 288.9,592.8 290.9,592.5 292.8,592.2 294.8,591.8 296.7,591.4 298.7,590.9 300.6,590.4 302.5,589.8 304.3,589.1 306.2,588.4 308.0,587.7 309.9,586.9 311.7,586.2 313.6,585.5 315.4,584.9 317.3,584.3 319.2,583.9 321.2,583.5 323.1,583.3 325.0,583.1 327.0,583.0 329.0,582.9 331.0,583.0 333.0,583.0 335.0,583.1 337.0,583.2 339.0,583.3 340.9,583.5 342.9,583.7 344.9,583.9 346.8,584.2 348.8,584.6 350.7,585.1 352.6,585.6 354.5,586.2 356.4,586.8 358.3,587.5 360.1,588.2 362.0,589.0 363.8,589.8 365.5,590.7 367.2,591.7 368.9,592.7 370.6,593.8 372.2,595.0 373.8,596.2 375.3,597.4 376.8,598.8 378.3,600.1 379.7,601.5 381.1,602.9 382.5,604.4 383.8,605.8 385.2,607.3 386.5,608.8 387.8,610.3 389.1,611.8 390.4,613.4 391.6,614.9 392.7,616.5 393.7,618.1 394.7,619.8 395.5,621.6 396.3,623.4 396.9,625.2 397.5,627.1 398.0,629.0 398.5,630.9 399.0,632.8 399.4,634.8 399.9,636.7 400.3,638.7 400.8,640.6 401.4,642.5 401.9,644.4 402.5,646.4 403.1,648.3 403.8,650.2 404.4,652.1 405.0,654.0 405.7,655.9 406.3,657.8 406.9,659.7 407.5,661.6 408.1,663.5 408.6,665.4 409.1,667.3 409.7,669.3 410.2,671.2 410.7,673.1 411.2,675.1 411.7,677.0 412.2,679.0 412.7,680.9 413.2,682.8 413.8,684.8 414.3,686.7 414.9,688.6 415.4,690.5 416.0,692.4 416.6,694.4 417.1,696.3 417.7,698.2 418.2,700.1 418.7,702.1 419.2,704.0 419.7,705.9 420.2,707.9 420.6,709.8 421.1,711.8 421.5,713.8 421.9,715.7 422.3,717.7 422.7,719.6 423.1,721.6 423.5,723.6 424.0,725.5 424.4,727.5 424.8,729.4 425.3,731.4 425.8,733.3 426.2,735.3 426.7,737.2 427.2,739.1 427.7,741.1 428.1,743.0 428.6,745.0 429.0,746.9 429.5,748.9 429.9,750.9 430.3,752.8 430.7,754.8 431.1,756.7 431.5,758.7 431.9,760.7 432.3,762.6 432.7,764.6 433.1,766.6 433.5,768.5 433.8,770.5 434.2,772.4 434.6,774.4 435.0,776.4 435.4,778.3 435.8,780.3 436.2,782.3 436.5,784.2 436.9,786.2 437.2,788.2 437.5,790.2 437.8,792.1 438.0,794.1 438.2,796.1 438.4,798.1 438.7,800.1 438.9,802.1 439.1,804.1 439.3,806.1 439.5,808.0 439.7,810.0 440.0,812.0 440.3,814.0 440.5,816.0 440.8,818.0 441.1,820.0 441.4,821.9 441.7,823.9 442.0,825.9 442.3,827.9 442.6,829.8 442.9,831.8 443.3,833.8 443.6,835.8 443.9,837.7 444.3,839.7 444.6,841.7 445.0,843.7 445.4,845.6 445.8,847.6 446.2,849.6 446.5,851.5 446.9,853.5 447.3,855.4 447.7,857.4 448.1,859.4 448.5,861.3 448.9,863.3 449.3,865.3 449.7,867.2 450.1,869.2 450.5,871.2 450.9,873.1 451.3,875.1 451.7,877.0 452.1,879.0 452.5,881.0 452.9,882.9 453.3,884.9 453.7,886.8 454.1,888.8 454.5,890.8 454.9,892.7 455.3,894.7 455.7,896.7 456.1,898.6 456.5,900.6 456.8,902.6 457.2,904.5 457.6,906.5 458.0,908.5 458.4,910.4 458.8,912.4 459.2,914.3 459.6,916.3 460.0,918.3 460.4,920.2 460.8,922.2 461.2,924.2 461.5,926.1 461.9,928.1 462.3,930.0 462.7,932.0 463.1,934.0 463.5,935.9 463.9,937.9 464.2,939.9 464.6,941.8 464.9,943.8 465.2,945.8 465.5,947.8 465.7,949.8 465.9,951.8 466.2,953.7 466.4,955.7 466.6,957.7 466.8,959.7 467.0,961.7 467.2,963.7 467.5,965.7 467.7,967.7 468.0,969.6 468.3,971.6 468.6,973.6 469.0,975.6 469.4,977.5 469.8,979.5 470.3,981.4 470.7,983.4 471.2,985.3 471.7,987.2 472.2,989.2 472.7,991.1 473.1,993.1 473.6,995.0 474.1,997.0 474.5,998.9 475.0,1000.9 475.4,1002.8 475.8,1004.8 476.3,1006.7 476.7,1008.7 477.1,1010.7 477.5,1012.6 477.9,1014.6 478.2,1016.5 478.6,1018.5 479.0,1020.5 479.4,1022.4 479.8,1024.4 480.2,1026.4 480.6,1028.3 481.0,1030.3 481.4,1032.3 481.8,1034.2 482.2,1036.2 482.6,1038.1 483.0,1040.1 483.4,1042.1 483.8,1044.0 484.1,1046.0 484.5,1048.0 485.0,1049.9 485.4,1051.9 485.8,1053.8 486.2,1055.8 486.6,1057.8 487.1,1059.7 487.5,1061.7 488.0,1063.6 488.5,1065.5 488.9,1067.5 489.4,1069.4 489.9,1071.4 490.4,1073.3 490.9,1075.3 491.4,1077.2 491.8,1079.2 492.3,1081.1 492.9,1083.0 493.4,1085.0 493.9,1086.9 494.4,1088.8 495.0,1090.8 495.5,1092.7 496.1,1094.6 496.6,1096.5 497.2,1098.5 497.7,1100.4 498.3,1102.3 498.9,1104.2 499.5,1106.1 500.0,1108.0 500.6,1110.0 501.2,1111.9 501.8,1113.8 502.3,1115.7 502.9,1117.6 503.5,1119.6 504.1,1121.5 504.7,1123.4 505.2,1125.3 505.8,1127.2 506.4,1129.1 507.0,1131.1 507.6,1133.0 508.1,1134.9 508.7,1136.8 509.3,1138.7 509.8,1140.6 510.4,1142.6 511.0,1144.5 511.5,1146.4 512.0,1148.4 512.5,1150.3 513.0,1152.2 513.5,1154.2 514.0,1156.1 514.5,1158.0 515.0,1160.0 515.5,1161.9 516.0,1163.9 516.4,1165.8 516.9,1167.8 517.4,1169.7 517.9,1171.7 518.4,1173.6 518.8,1175.5 519.3,1177.5 519.8,1179.4 520.3,1181.4 520.8,1183.3 521.3,1185.2 521.8,1187.2 522.3,1189.1 522.9,1191.0 523.4,1193.0 524.0,1194.9 524.6,1196.8 525.2,1198.7 525.9,1200.6 526.5,1202.5 527.1,1204.4 527.8,1206.3 528.5,1208.2 529.1,1210.0 529.8,1211.9 530.5,1213.8 531.1,1215.7 531.8,1217.6 532.4,1219.5 533.1,1221.4 533.7,1223.3 534.4,1225.2 535.0,1227.1 535.7,1229.0 536.3,1230.9 537.0,1232.8 537.6,1234.7 538.2,1236.6 538.9,1238.5 539.5,1240.4 540.2,1242.2 540.8,1244.1 541.5,1246.0 542.1,1247.9 542.8,1249.8 543.5,1251.7 544.1,1253.6 544.8,1255.5 545.4,1257.4 546.1,1259.3 546.8,1261.2 547.4,1263.0 548.1,1264.9 548.8,1266.8 549.5,1268.7 550.2,1270.5 551.0,1272.4 551.7,1274.3 552.4,1276.1 553.2,1278.0 553.9,1279.9 554.7,1281.7 555.4,1283.6 556.2,1285.4 556.9,1287.3 557.7,1289.1 558.5,1291.0 559.3,1292.8 560.1,1294.6 560.9,1296.5 561.7,1298.3 562.5,1300.1 563.3,1302.0 564.2,1303.8 565.0,1305.6 565.9,1307.4 566.7,1309.2 567.6,1311.0 568.5,1312.8 569.4,1314.6 570.4,1316.3 571.3,1318.1 572.3,1319.8 573.4,1321.5 574.4,1323.2 575.5,1324.9 576.6,1326.6 577.7,1328.2 578.8,1329.9 580.0,1331.5 581.3,1333.0 582.5,1334.6 583.8,1336.1 585.2,1337.6 586.5,1339.1 587.8,1340.5 589.2,1342.0 590.6,1343.4 592.0,1344.9 593.4,1346.3 594.8,1347.7 596.2,1349.2 597.6,1350.6 599.1,1352.0 600.5,1353.4 602.0,1354.7 603.4,1356.1 604.9,1357.4 606.4,1358.8 607.9,1360.1 609.4,1361.4 610.9,1362.7 612.5,1364.0 614.0,1365.3 615.6,1366.5 617.1,1367.8 618.7,1369.0 620.3,1370.2 621.9,1371.4 623.6,1372.5 625.2,1373.7 626.9,1374.8 628.5,1375.9 630.2,1377.0 631.9,1378.0 633.6,1379.1 635.3,1380.1 637.1,1381.1 638.8,1382.0 640.6,1383.0 642.3,1384.0 644.1,1384.9 645.9,1385.8 647.7,1386.7 649.4,1387.7 651.2,1388.6 653.0,1389.5 654.8,1390.4 656.6,1391.3 658.4,1392.1 660.2,1393.0 662.0,1393.9 663.8,1394.7 665.6,1395.5 667.5,1396.3 669.3,1397.1 671.1,1397.9 673.0,1398.6 674.9,1399.3 676.7,1400.0 678.6,1400.6 680.5,1401.2 682.5,1401.7 684.4,1402.2 686.3,1402.6 688.3,1403.0 690.3,1403.3 692.2,1403.7 694.2,1404.0 696.2,1404.3 698.2,1404.6 700.2,1404.9 702.1,1405.2 704.1,1405.5 706.1,1405.7 708.1,1406.0 710.1,1406.2 712.1,1406.5 714.1,1406.7 716.0,1406.9 718.0,1407.1 720.0,1407.3 722.0,1407.5 724.0,1407.7 726.0,1407.8 728.0,1408.0 730.0,1408.1 732.0,1408.2 734.0,1408.4 736.0,1408.5 738.0,1408.6 740.0,1408.7 742.0,1408.9 744.0,1409.0 746.0,1409.1 748.0,1409.2 750.0,1409.4 752.0,1409.5 754.0,1409.6 756.0,1409.7 758.0,1409.8 760.0,1409.8 762.0,1409.9 764.0,1409.9 766.0,1410.0 768.0,1410.0 770.0,1410.0 772.0,1410.0 774.0,1410.0 776.0,1410.0 778.0,1410.0 780.0,1410.0 782.0,1410.0 784.0,1410.0 786.0,1410.0 788.0,1410.0 790.0,1410.0 792.0,1410.0 794.0,1410.0 796.0,1410.0 798.0,1410.0 800.0,1410.0 802.0,1410.0 804.0,1410.0 806.0,1410.0 808.0,1410.0 810.0,1410.0 812.0,1410.0 814.1,1410.0 816.1,1410.0 818.1,1410.0 820.1,1410.0 822.1,1410.0 824.1,1410.0 826.1,1410.0 828.1,1410.0 830.1,1410.1 832.1,1410.1 834.1,1410.1 836.1,1410.1 838.1,1410.1 840.1,1410.1 842.1,1410.1 844.1,1410.1 846.1,1410.1 848.1,1410.1 850.1,1410.1 852.1,1410.1 854.1,1410.1 856.1,1410.1 858.1,1410.1 860.1,1410.1 862.1,1410.1 864.1,1410.1 866.1,1410.1 868.1,1410.1 870.1,1410.1 872.1,1410.1 874.1,1410.1 876.1,1410.1 878.1,1410.1 880.1,1410.1 882.1,1410.1 884.1,1410.1 886.1,1410.1 888.1,1410.1 890.1,1410.1 892.1,1410.1 894.2,1410.1 896.2,1410.1 898.2,1410.1 900.2,1410.1 902.2,1410.1 904.2,1410.1 906.2,1410.1 908.2,1410.0 910.2,1410.0 912.2,1410.0 914.2,1410.0 916.2,1410.0 918.2,1410.0 920.2,1410.0 922.2,1410.0 924.2,1410.0 926.2,1409.9 928.2,1409.9 930.2,1409.9 932.2,1409.9 934.2,1409.9 936.2,1409.9 938.2,1409.9 940.2,1409.9 942.2,1409.8 944.2,1409.8 946.2,1409.8 948.2,1409.8 950.2,1409.8 952.2,1409.8 954.2,1409.8 956.2,1409.8 958.2,1409.8 960.2,1409.7 962.2,1409.7 964.2,1409.7 966.2,1409.7 968.2,1409.7 970.2,1409.7 972.2,1409.7 974.3,1409.7 976.3,1409.6 978.3,1409.6 980.3,1409.6 982.3,1409.6 984.3,1409.6 986.3,1409.6 988.3,1409.6 990.3,1409.6 992.3,1409.5 994.3,1409.5 996.3,1409.5 998.3,1409.5 1000.3,1409.5 1002.3,1409.5 1004.3,1409.5 1006.3,1409.5 1008.3,1409.5 1010.3,1409.5 1012.3,1409.5 1014.3,1409.5 1016.3,1409.5 1018.3,1409.5 1020.3,1409.5 1022.3,1409.5 1024.3,1409.5 1026.3,1409.5 1028.3,1409.5 1030.3,1409.5 1032.3,1409.5 1034.3,1409.5 1036.3,1409.5 1038.3,1409.5 1040.3,1409.5 1042.3,1409.5 1044.3,1409.5 1046.3,1409.5 1048.3,1409.5 1050.3,1409.5 1052.4,1409.5 1054.4,1409.5 1056.4,1409.5 1058.4,1409.5 1060.4,1409.5 1062.4,1409.5 1064.4,1409.5 1066.4,1409.5 1068.4,1409.5 1070.4,1409.4 1072.4,1409.4 1074.4,1409.4 1076.4,1409.4 1078.4,1409.4 1080.4,1409.4 1082.4,1409.4 1084.4,1409.4 1086.4,1409.4 1088.4,1409.4 1090.4,1409.4 1092.4,1409.4 1094.4,1409.4 1096.4,1409.4 1098.4,1409.4 1100.4,1409.4 1102.4,1409.4 1104.4,1409.4 1106.4,1409.4 1108.4,1409.4 1110.4,1409.4 1112.4,1409.4 1114.4,1409.4 1116.4,1409.4 1118.4,1409.4 1120.4,1409.4 1122.4,1409.4 1124.4,1409.4 1126.4,1409.4 1128.4,1409.4 1130.5,1409.4 1132.5,1409.4 1134.5,1409.4 1136.5,1409.4 1138.5,1409.4 1140.5,1409.4 1142.5,1409.4 1144.5,1409.4 1146.5,1409.4 1148.5,1409.4 1150.5,1409.4 1152.5,1409.4 1154.5,1409.4 1156.5,1409.4 1158.5,1409.4 1160.5,1409.4 1162.5,1409.4 1164.5,1409.4 1166.5,1409.4 1168.5,1409.4 1170.5,1409.4 1172.5,1409.4 1174.5,1409.4 1176.5,1409.4 1178.5,1409.4 1180.5,1409.4 1182.5,1409.4 1184.5,1409.4 1186.5,1409.4 1188.5,1409.4 1190.5,1409.4 1192.5,1409.4 1194.5,1409.4 1196.5,1409.4 1198.5,1409.4 1200.5,1409.4 1202.5,1409.4 1204.5,1409.4 1206.5,1409.4 1208.6,1409.3 1210.6,1409.3 1212.6,1409.3 1214.6,1409.3 1216.6,1409.3 1218.6,1409.3 1220.6,1409.3 1222.6,1409.3 1224.6,1409.3 1226.6,1409.3 1228.6,1409.3 1230.6,1409.3 1232.6,1409.3 1234.6,1409.3 1236.6,1409.3 1238.6,1409.3 1240.6,1409.3 1242.6,1409.3 1244.6,1409.3 1246.6,1409.3 1248.6,1409.3 1250.6,1409.3 1252.6,1409.3 1254.6,1409.3 1256.6,1409.3 1258.6,1409.3 1260.6,1409.3 1262.6,1409.3 1264.6,1409.3 1266.6,1409.3 1268.6,1409.3 1270.6,1409.3 1272.6,1409.3 1274.6,1409.3 1276.6,1409.3 1278.6,1409.3 1280.6,1409.3 1282.6,1409.3 1284.6,1409.3 1286.6,1409.3 1288.7,1409.3 1290.7,1409.3 1292.7,1409.3 1294.7,1409.3 1296.7,1409.3 1298.7,1409.3 1300.7,1409.3 1302.7,1409.3 1304.7,1409.3 1306.7,1409.3 1308.7,1409.3 1310.7,1409.3 1312.7,1409.3 1314.7,1409.3 1316.7,1409.3 1318.7,1409.3 1320.7,1409.3 1322.7,1409.3 1324.7,1409.3 1326.7,1409.3 1328.7,1409.3 1330.7,1409.3 1332.7,1409.3 1334.7,1409.3 1336.7,1409.3 1338.7,1409.3 1340.7,1409.3 1342.7,1409.3 1344.7,1409.3 1346.7,1409.2 1348.7,1409.2 1350.7,1409.2 1352.7,1409.2 1354.7,1409.2 1356.7,1409.2 1358.7,1409.2 1360.7,1409.2 1362.7,1409.2 1364.7,1409.2 1366.8,1409.2 1368.8,1409.2 1370.8,1409.2 1372.8,1409.2 1374.8,1409.2 1376.8,1409.2 1378.8,1409.2 1380.8,1409.2 1382.8,1409.2 1384.8,1409.2 1386.8,1409.2 1388.8,1409.2 1390.8,1409.2 1392.8,1409.2 1394.8,1409.2 1396.8,1409.2 1398.8,1409.2 1400.8,1409.2 1402.8,1409.2 1404.8,1409.2 1406.8,1409.2 1408.8,1409.2 1410.8,1409.2 1412.8,1409.2 1414.8,1409.2 1416.8,1409.2 1418.8,1409.2 1420.8,1409.2 1422.8,1409.2 1424.8,1409.2 1426.8,1409.2 1428.8,1409.2 1430.8,1409.2 1432.8,1409.2 1434.8,1409.2 1436.8,1409.2 1438.8,1409.2 1440.8,1409.2 1442.8,1409.2 1444.9,1409.2 1446.9,1409.2 1448.9,1409.2 1450.9,1409.2 1452.9,1409.2 1454.9,1409.2 1456.9,1409.2 1458.9,1409.2 1460.9,1409.2 1462.9,1409.2 1464.9,1409.2 1466.9,1409.2 1468.9,1409.2 1470.9,1409.2 1472.9,1409.2 1474.9,1409.2 1476.9,1409.2 1478.9,1409.2 1480.9,1409.2 1482.9,1409.2 1484.9,1409.1 1486.9,1409.1 1488.9,1409.1 1490.9,1409.1 1492.9,1409.1 1494.9,1409.1 1496.9,1409.1 1498.9,1409.1 1500.9,1409.1 1502.9,1409.1 1504.9,1409.1 1506.9,1409.1 1508.9,1409.1 1510.9,1409.1 1512.9,1409.1 1514.9,1409.1 1516.9,1409.1 1518.9,1409.1 1520.9,1409.1 1522.9,1409.1 1525.0,1409.1 1527.0,1409.1 1529.0,1409.1 1531.0,1409.1 1533.0,1409.1 1535.0,1409.1 1537.0,1409.1 1539.0,1409.1 1541.0,1409.1 1543.0,1409.1 1545.0,1409.1 1547.0,1409.1 1549.0,1409.1 1551.0,1409.1 1553.0,1409.1 1555.0,1409.1 1557.0,1409.1 1559.0,1409.1 1561.0,1409.1 1563.0,1409.1 1565.0,1409.1 1567.0,1409.1 1569.0,1409.1 1571.0,1409.1 1573.0,1409.1 1575.0,1409.1 1577.0,1409.1 1579.0,1409.1 1581.0,1409.1 1583.0,1409.1 1585.0,1409.1 1587.0,1409.1 1589.0,1409.1 1591.0,1409.1 1593.0,1409.1 1595.0,1409.1 1597.0,1409.1 1599.0,1409.1 1601.0,1409.1 1603.1,1409.1 1605.1,1409.1 1607.1,1409.1 1609.1,1409.1 1611.1,1409.1 1613.1,1409.1 1615.1,1409.1 1617.1,1409.1 1619.1,1409.1 1621.1,1409.0 1623.1,1409.0 1625.1,1409.0 1627.1,1409.0 1629.1,1409.0 1631.1,1409.0 1633.1,1409.0 1635.1,1409.0 1637.1,1409.0 1639.1,1409.0 1641.1,1409.0 1643.1,1409.0 1645.1,1409.0 1647.1,1409.0 1649.1,1409.0 1651.1,1409.0 1653.1,1409.0 1655.1,1409.0 1657.1,1409.0 1659.1,1409.0 1661.1,1409.0 1663.1,1409.0 1665.1,1409.0 1667.1,1409.0 1669.1,1409.0 1671.1,1409.0 1673.1,1409.0 1675.1,1409.0 1677.1,1409.1 1679.1,1409.1 1681.1,1409.2 1683.1,1409.3 1685.0,1409.5 1686.9,1409.8 1688.8,1410.2 1690.7,1410.6 1692.5,1411.1 1694.4,1411.6 1696.2,1412.1 1698.1,1412.5 1700.0,1412.9 1701.9,1413.2 1703.9,1413.4 1705.8,1413.5 1707.8,1413.6 1709.8,1413.7 1711.8,1413.7 1713.8,1413.7 1715.8,1413.7 1717.8,1413.7 1719.8,1413.7 1721.8,1413.7 1723.8,1413.7 1725.8,1413.7 1727.8,1413.7 1729.8,1413.7 1731.8,1413.7 1733.8,1413.7 1735.8,1413.7 1737.8,1413.7 1739.8,1413.7 1741.8,1413.7 1743.8,1413.7 1745.8,1413.7 1747.8,1413.7 1749.8,1413.7 1751.8,1413.7 1753.8,1413.7 1755.8,1413.7 1757.8,1413.7 1759.8,1413.7 1761.8,1413.7 1763.8,1413.7 1765.8,1413.7 1767.8,1413.7 1769.8,1413.7 1771.8,1413.7 1773.8,1413.7 1775.8,1413.7 1777.8,1413.7 1779.8,1413.7 1781.8,1413.7 1783.9,1413.7 1785.9,1413.7 1787.9,1413.7 1789.9,1413.7 1791.9,1413.7 1793.9,1413.7 1795.9,1413.7 1797.9,1413.7 1799.9,1413.7 1801.9,1413.7 1803.9,1413.7 1805.9,1413.7 1807.9,1413.7 1809.9,1413.7 1811.9,1413.7 1813.9,1413.7 1815.9,1413.7 1817.9,1413.7 1819.9,1413.7 1821.9,1413.7 1823.9,1413.7 1825.9,1413.7 1827.9,1413.7 1829.9,1413.7 1831.9,1413.7 1833.9,1413.7 1835.9,1413.7 1837.9,1413.7 1839.9,1413.7 1841.9,1413.7 1843.9,1413.7 1845.9,1413.7 1847.9,1413.7 1849.9,1413.7 1851.9,1413.7 1853.9,1413.7 1855.9,1413.7 1857.9,1413.7 1859.9,1413.7 1862.0,1413.7 1864.0,1413.7 1866.0,1413.7 1868.0,1413.7 1870.0,1413.7 1872.0,1413.7 1874.0,1413.7 1876.0,1413.7 1878.0,1413.7 1880.0,1413.7 1882.0,1413.7 1884.0,1413.7 1886.0,1413.7 1888.0,1413.7 1890.0,1413.7 1892.0,1413.7 1894.0,1413.7 1896.0,1413.7 1898.0,1413.7 1900.0,1413.7" fill="none" stroke="#fc0000" stroke-width="12" stroke-linejoin="round" stroke-linecap="butt"/>
<rect x="675.3" y="123.6" width="1204.7" height="898.9" fill="#fff"/>
<rect x="941" y="130.1" width="360.5" height="886.4" fill="#e0ffff"/>
<rect x="1365" y="130.1" width="277.5" height="886.4" fill="#e0ffff"/>
<polyline points="945.0,759.8 1143.0,760.2 1149.0,757.1 1298.0,757.1" fill="none" stroke="#782800" stroke-width="5"/>
<polyline points="1368.0,772.5 1452.9,771.8 1457.5,774.8 1488.0,774.0 1495.7,777.1 1523.0,776.4 1528.0,779.7 1567.5,778.9 1574.1,781.3 1640.0,781.3" fill="none" stroke="#782800" stroke-width="5"/>
<path d="M887.0,783.0 C889.3,780.8 895.3,770.6 900.9,769.6 C906.5,768.6 915.5,776.4 920.6,777.2 C925.7,778.0 927.5,778.0 931.3,774.2 C935.1,770.4 940.4,758.0 943.4,754.4 C946.4,750.8 944.7,753.8 949.2,752.5 C953.7,751.2 963.7,749.4 970.6,746.4 C977.5,743.4 983.4,739.8 990.5,734.2 C997.6,728.6 1006.5,720.9 1013.4,712.8 C1020.3,704.6 1025.6,694.2 1031.7,685.3 C1037.8,676.4 1044.5,668.0 1050.1,659.3 C1055.7,650.6 1060.3,642.5 1065.4,633.3 C1070.5,624.1 1076.1,612.9 1080.7,604.2 C1085.3,595.5 1088.8,587.7 1092.9,581.3 C1097.0,574.9 1100.5,570.1 1105.1,566.0 C1109.7,561.9 1116.9,558.1 1120.4,556.8 C1123.9,555.5 1122.8,556.8 1126.1,558.3 C1129.3,559.8 1135.3,562.2 1139.9,566.0 C1144.5,569.8 1149.3,575.4 1153.6,581.3 C1157.9,587.2 1161.8,593.8 1165.9,601.2 C1170.0,608.6 1174.5,619.0 1178.1,625.6 C1181.7,632.2 1184.2,635.3 1187.3,640.9 C1190.4,646.5 1193.2,653.2 1196.5,659.3 C1199.8,665.4 1203.4,671.0 1207.2,677.6 C1211.0,684.2 1215.1,692.9 1219.4,699.0 C1223.7,705.1 1228.5,709.2 1233.1,714.3 C1237.7,719.4 1242.1,725.0 1246.9,729.6 C1251.8,734.2 1256.6,738.5 1262.2,741.8 C1267.8,745.1 1275.0,747.5 1280.6,749.5 C1286.2,751.5 1291.5,752.0 1295.8,754.0 C1300.1,756.0 1302.5,759.9 1306.5,761.7 C1310.5,763.5 1316.5,765.5 1319.9,765.0 C1323.3,764.5 1324.1,758.6 1326.8,758.8 C1329.5,759.0 1333.1,762.8 1336.0,766.0 C1338.9,769.2 1342.7,776.0 1344.0,778.0" fill="none" stroke="#00c8c8" stroke-width="5.5" stroke-linejoin="round"/>
<path d="M1344.3,778.7 C1346.3,775.9 1352.5,765.4 1356.6,761.8 C1360.7,758.2 1364.2,760.5 1368.8,757.2 C1373.4,753.9 1380.0,746.8 1384.1,742.0 C1388.2,737.2 1390.8,732.5 1393.3,728.2 C1395.8,723.9 1397.1,720.1 1399.4,716.0 C1401.7,711.9 1404.7,708.6 1407.0,703.7 C1409.3,698.9 1411.0,693.5 1413.1,686.9 C1415.1,680.3 1417.2,672.4 1419.3,664.0 C1421.3,655.6 1423.4,646.2 1425.4,636.5 C1427.4,626.8 1429.5,616.1 1431.5,605.9 C1433.5,595.7 1435.7,585.4 1437.6,575.3 C1439.5,565.1 1441.1,555.9 1443.0,545.0 C1444.9,534.1 1447.0,521.7 1449.0,510.0 C1451.0,498.3 1453.0,485.8 1455.0,475.0 C1457.0,464.2 1459.3,452.8 1461.0,445.0 C1462.7,437.2 1463.7,432.2 1465.0,428.0 C1466.3,423.8 1467.4,427.2 1468.8,420.0 C1470.2,412.8 1471.7,395.0 1473.2,384.7 C1474.7,374.4 1476.1,366.4 1477.6,358.3 C1479.1,350.2 1480.6,343.6 1482.1,336.2 C1483.6,328.8 1485.0,320.0 1486.5,314.1 C1488.0,308.2 1489.0,305.3 1490.9,300.9 C1492.8,296.5 1495.4,291.1 1497.9,287.7 C1500.4,284.3 1503.7,281.4 1505.9,280.6 C1508.1,279.9 1509.6,281.6 1511.2,283.2 C1512.8,284.8 1514.1,287.6 1515.6,290.3 C1517.1,293.0 1518.7,295.1 1520.0,299.1 C1521.3,303.1 1522.3,308.7 1523.5,314.1 C1524.7,319.6 1525.9,325.9 1527.1,331.8 C1528.3,337.7 1529.3,343.5 1530.6,349.4 C1531.9,355.3 1533.5,361.2 1535.0,367.1 C1536.5,373.0 1538.1,378.8 1539.4,384.7 C1540.7,390.6 1541.8,396.5 1543.0,402.4 C1544.2,408.3 1545.2,413.7 1546.5,420.0 C1547.8,426.3 1548.8,431.2 1550.6,440.0 C1552.4,448.8 1555.5,461.8 1557.6,473.0 C1559.6,484.2 1561.1,495.4 1562.9,507.0 C1564.7,518.5 1566.7,531.0 1568.2,542.3 C1569.7,553.6 1570.7,564.4 1572.0,575.0 C1573.3,585.6 1573.2,591.1 1576.0,605.9 C1578.8,620.7 1584.7,647.1 1589.0,663.6 C1593.3,680.1 1598.3,693.6 1602.1,704.7 C1605.9,715.8 1608.7,722.8 1612.0,730.0 C1615.3,737.2 1618.3,743.0 1622.0,748.0 C1625.7,753.0 1630.8,756.7 1634.0,760.0 C1637.2,763.3 1639.2,763.8 1641.0,768.0 C1642.8,772.2 1643.5,780.0 1645.0,785.0 C1646.5,790.0 1647.5,795.5 1650.0,798.0 C1652.5,800.5 1656.2,797.2 1660.0,800.0 C1663.8,802.8 1670.8,812.5 1673.0,815.0" fill="none" stroke="#c800d8" stroke-width="6" stroke-linejoin="round"/>
<polyline points="678.4,759.0 684.4,761.3 691.3,748.4 695.8,725.6 701.9,736.2 709.5,745.3 715.6,766.6 722.4,766.6 729.2,764.3 735.3,754.4 741.4,770.4 749.0,771.1 757.3,768.9 762.7,768.9 768.7,771.1 774.8,765.8 780.9,771.1 787.7,778.7 794.6,777.2 802.2,780.3 808.2,783.3 815.8,783.3 821.1,778.7 828.0,784.8 834.0,787.9 841.7,783.3 847.7,778.7 853.8,786.3 859.9,787.9 866.0,778.7 873.5,774.2 879.6,770.4 887.2,787.9 893.3,784.8 899.4,772.7 907.0,772.7 913.0,772.7 919.1,780.3 928.2,778.7 934.3,778.7 940.4,765.0 945.7,752.9 951.0,762.0 957.9,778.7 964.7,765.0 970.6,757.1 976.7,746.4 984.3,738.8 992.0,743.4 1004.2,731.1 1011.9,728.8 1019.5,715.8 1025.6,697.5 1031.7,682.2 1037.9,671.5 1044.0,661.6 1050.1,665.4 1060.8,664.6 1065.4,647.0 1068.4,625.6 1071.5,611.9 1074.6,599.6 1080.7,588.9 1089.8,582.8 1094.4,558.3 1103.6,559.9 1109.7,572.1 1115.8,555.3 1123.5,561.4 1128.2,581.3 1141.4,564.5 1149.0,595.0 1156.7,585.9 1161.3,611.9 1167.4,628.7 1178.1,630.2 1188.8,631.7 1196.5,642.4 1199.5,673.0 1205.6,683.7 1214.8,692.9 1227.0,699.0 1239.3,708.2 1248.4,726.5 1254.6,732.7 1259.9,744.9 1266.8,732.7 1276.0,735.7 1280.6,748.0 1287.4,741.8 1294.3,749.5 1298.9,763.2 1309.4,767.5 1319.9,771.0 1326.8,763.4 1333.6,768.0 1339.8,780.2 1345.9,785.5 1352.0,780.2 1358.1,772.5 1365.7,771.0 1372.6,775.6 1379.5,768.0 1384.1,754.2 1391.7,755.7 1399.4,740.4 1407.0,725.1 1413.1,706.8 1419.3,686.9 1423.9,667.0 1428.4,645.6 1433.0,621.2 1436.9,598.2 1440.2,578.3 1442.5,560.0 1448.2,524.7 1453.5,489.4 1458.8,454.1 1463.0,430.0 1465.3,420.0 1467.9,384.7 1470.6,358.3 1473.2,331.8 1474.6,294.7 1477.6,312.4 1482.1,316.8 1489.1,312.4 1495.3,292.1 1500.6,285.0 1504.1,278.8 1507.7,305.3 1511.2,303.5 1516.5,304.4 1518.3,323.0 1520.0,340.6 1523.5,353.8 1527.1,367.1 1530.6,384.7 1533.3,398.0 1537.7,406.8 1542.1,420.0 1547.1,440.0 1554.1,472.0 1561.2,507.0 1566.2,542.3 1569.2,564.7 1573.3,589.4 1581.5,605.9 1585.7,630.6 1592.3,655.3 1598.8,680.0 1605.4,704.7 1610.4,724.5 1620.3,750.9 1630.1,755.8 1638.4,764.0 1641.7,778.9 1646.6,801.0 1653.9,804.3 1660.3,801.8 1672.9,817.0 1680.5,832.2 1688.1,842.3 1698.2,856.2 1708.4,853.7 1719.7,851.1 1724.8,862.5 1736.2,873.9 1745.1,886.6 1753.9,877.7 1761.5,871.4 1766.6,872.7 1772.9,889.1 1778.0,894.2 1789.4,887.8 1798.2,901.8 1804.6,896.7 1817.2,903.0 1823.5,898.0 1831.1,903.0 1838.7,903.0 1845.1,895.4 1851.4,900.5 1857.7,898.0 1864.1,900.5 1877.5,896.7" fill="none" stroke="#d40000" stroke-width="7" stroke-linejoin="miter" stroke-miterlimit="3"/>
<rect x="675.3" y="123.6" width="1204.7" height="898.9" fill="none" stroke="#000" stroke-width="6.5"/>
<line x1="658.3" y1="1003.2" x2="675.3" y2="1003.2" stroke="#000" stroke-width="6"/>
<line x1="658.3" y1="970.4" x2="675.3" y2="970.4" stroke="#000" stroke-width="6"/>
<line x1="658.3" y1="937.7" x2="675.3" y2="937.7" stroke="#000" stroke-width="6"/>
<line x1="658.3" y1="904.9" x2="675.3" y2="904.9" stroke="#000" stroke-width="6"/>
<line x1="644.3" y1="872.1" x2="675.3" y2="872.1" stroke="#000" stroke-width="6"/>
<line x1="658.3" y1="839.3" x2="675.3" y2="839.3" stroke="#000" stroke-width="6"/>
<line x1="658.3" y1="806.5" x2="675.3" y2="806.5" stroke="#000" stroke-width="6"/>
<line x1="658.3" y1="773.8" x2="675.3" y2="773.8" stroke="#000" stroke-width="6"/>
<line x1="658.3" y1="741.0" x2="675.3" y2="741.0" stroke="#000" stroke-width="6"/>
<line x1="644.3" y1="708.2" x2="675.3" y2="708.2" stroke="#000" stroke-width="6"/>
<line x1="658.3" y1="675.4" x2="675.3" y2="675.4" stroke="#000" stroke-width="6"/>
<line x1="658.3" y1="642.6" x2="675.3" y2="642.6" stroke="#000" stroke-width="6"/>
<line x1="658.3" y1="609.9" x2="675.3" y2="609.9" stroke="#000" stroke-width="6"/>
<line x1="658.3" y1="577.1" x2="675.3" y2="577.1" stroke="#000" stroke-width="6"/>
<line x1="644.3" y1="544.3" x2="675.3" y2="544.3" stroke="#000" stroke-width="6"/>
<line x1="658.3" y1="511.5" x2="675.3" y2="511.5" stroke="#000" stroke-width="6"/>
<line x1="658.3" y1="478.7" x2="675.3" y2="478.7" stroke="#000" stroke-width="6"/>
<line x1="658.3" y1="446.0" x2="675.3" y2="446.0" stroke="#000" stroke-width="6"/>
<line x1="658.3" y1="413.2" x2="675.3" y2="413.2" stroke="#000" stroke-width="6"/>
<line x1="644.3" y1="380.4" x2="675.3" y2="380.4" stroke="#000" stroke-width="6"/>
<line x1="658.3" y1="347.6" x2="675.3" y2="347.6" stroke="#000" stroke-width="6"/>
<line x1="658.3" y1="314.8" x2="675.3" y2="314.8" stroke="#000" stroke-width="6"/>
<line x1="658.3" y1="282.1" x2="675.3" y2="282.1" stroke="#000" stroke-width="6"/>
<line x1="658.3" y1="249.3" x2="675.3" y2="249.3" stroke="#000" stroke-width="6"/>
<line x1="644.3" y1="216.5" x2="675.3" y2="216.5" stroke="#000" stroke-width="6"/>
<line x1="658.3" y1="183.7" x2="675.3" y2="183.7" stroke="#000" stroke-width="6"/>
<line x1="658.3" y1="150.9" x2="675.3" y2="150.9" stroke="#000" stroke-width="6"/>
<line x1="1837.1" y1="1022.5" x2="1837.1" y2="1046" stroke="#000" stroke-width="6"/>
<line x1="1771.5" y1="1022.5" x2="1771.5" y2="1046" stroke="#000" stroke-width="6"/>
<line x1="1705.9" y1="1022.5" x2="1705.9" y2="1066.5" stroke="#000" stroke-width="6"/>
<line x1="1640.3" y1="1022.5" x2="1640.3" y2="1046" stroke="#000" stroke-width="6"/>
<line x1="1574.7" y1="1022.5" x2="1574.7" y2="1046" stroke="#000" stroke-width="6"/>
<line x1="1509.1" y1="1022.5" x2="1509.1" y2="1046" stroke="#000" stroke-width="6"/>
<line x1="1443.5" y1="1022.5" x2="1443.5" y2="1066.5" stroke="#000" stroke-width="6"/>
<line x1="1377.9" y1="1022.5" x2="1377.9" y2="1046" stroke="#000" stroke-width="6"/>
<line x1="1312.3" y1="1022.5" x2="1312.3" y2="1046" stroke="#000" stroke-width="6"/>
<line x1="1246.7" y1="1022.5" x2="1246.7" y2="1046" stroke="#000" stroke-width="6"/>
<line x1="1181.1" y1="1022.5" x2="1181.1" y2="1066.5" stroke="#000" stroke-width="6"/>
<line x1="1115.5" y1="1022.5" x2="1115.5" y2="1046" stroke="#000" stroke-width="6"/>
<line x1="1049.9" y1="1022.5" x2="1049.9" y2="1046" stroke="#000" stroke-width="6"/>
<line x1="984.3" y1="1022.5" x2="984.3" y2="1046" stroke="#000" stroke-width="6"/>
<line x1="918.7" y1="1022.5" x2="918.7" y2="1066.5" stroke="#000" stroke-width="6"/>
<line x1="853.1" y1="1022.5" x2="853.1" y2="1046" stroke="#000" stroke-width="6"/>
<line x1="787.5" y1="1022.5" x2="787.5" y2="1046" stroke="#000" stroke-width="6"/>
<line x1="721.9" y1="1022.5" x2="721.9" y2="1046" stroke="#000" stroke-width="6"/>
</g>
<g filter="url(#bt)">
<text transform="translate(121.5,1549.5) scale(1,1.03)" x="0" y="0" font-size="72" font-weight="bold" text-anchor="middle" fill="#000" textLength="117" lengthAdjust="spacingAndGlyphs">200</text>
<text transform="translate(419.2,1549.5) scale(1,1.03)" x="0" y="0" font-size="72" font-weight="bold" text-anchor="middle" fill="#000" textLength="117" lengthAdjust="spacingAndGlyphs">300</text>
<text transform="translate(715.3,1549.5) scale(1,1.03)" x="0" y="0" font-size="72" font-weight="bold" text-anchor="middle" fill="#000" textLength="117" lengthAdjust="spacingAndGlyphs">400</text>
<text transform="translate(1011.5,1549.5) scale(1,1.03)" x="0" y="0" font-size="72" font-weight="bold" text-anchor="middle" fill="#000" textLength="117" lengthAdjust="spacingAndGlyphs">500</text>
<text transform="translate(1307.7,1549.5) scale(1,1.03)" x="0" y="0" font-size="72" font-weight="bold" text-anchor="middle" fill="#000" textLength="117" lengthAdjust="spacingAndGlyphs">600</text>
<text transform="translate(1603.8,1549.5) scale(1,1.03)" x="0" y="0" font-size="72" font-weight="bold" text-anchor="middle" fill="#000" textLength="117" lengthAdjust="spacingAndGlyphs">700</text>
<text transform="translate(1900.0,1549.5) scale(1,1.03)" x="0" y="0" font-size="72" font-weight="bold" text-anchor="middle" fill="#000" textLength="117" lengthAdjust="spacingAndGlyphs">800</text>
<text transform="translate(1012.0,1660.5) scale(1,1.02)" x="0" y="0" font-size="70" font-weight="bold" text-anchor="middle" fill="#000" textLength="549" lengthAdjust="spacingAndGlyphs">Wavelength (nm)</text>
<text transform="translate(85.0,808.0) rotate(-90) scale(1,1.02)" x="0" y="0" font-size="72" font-weight="bold" text-anchor="middle" fill="#000" textLength="574" lengthAdjust="spacingAndGlyphs">Absorbance (a.u.)</text>
<text transform="translate(646.3,871.8) scale(1,1.035)" x="0" y="0" font-size="60" text-anchor="end" fill="#000">5</text>
<text transform="translate(646.3,707.9) scale(1,1.035)" x="0" y="0" font-size="60" text-anchor="end" fill="#000">10</text>
<text transform="translate(646.3,544.0) scale(1,1.035)" x="0" y="0" font-size="60" text-anchor="end" fill="#000">15</text>
<text transform="translate(646.3,380.1) scale(1,1.035)" x="0" y="0" font-size="60" text-anchor="end" fill="#000">20</text>
<text transform="translate(646.3,216.2) scale(1,1.035)" x="0" y="0" font-size="60" text-anchor="end" fill="#000">25</text>
<text transform="translate(1705.9,1120.2) scale(1,1.045)" x="0" y="0" font-size="60" text-anchor="middle" fill="#000">456</text>
<text transform="translate(1443.5,1120.2) scale(1,1.045)" x="0" y="0" font-size="60" text-anchor="middle" fill="#000">460</text>
<text transform="translate(1181.1,1120.2) scale(1,1.045)" x="0" y="0" font-size="60" text-anchor="middle" fill="#000">464</text>
<text transform="translate(918.7,1120.2) scale(1,1.045)" x="0" y="0" font-size="60" text-anchor="middle" fill="#000">468</text>
<text transform="translate(1278.0,1186.6) scale(1,1.045)" x="0" y="0" font-size="60" text-anchor="middle" fill="#000">Binding Energy (eV)</text>
<text transform="translate(551.0,574.5) rotate(-90) scale(1,1.035)" x="0" y="0" font-size="60" text-anchor="middle" fill="#000">CPS</text>
<text transform="translate(677.0,118.0) scale(1,1.035)" x="0" y="0" font-size="58" text-anchor="start" fill="#000">x 10</text>
<text transform="translate(786.0,86.0) scale(1,1.035)" x="0" y="0" font-size="60" text-anchor="start" fill="#000">2</text>
<text transform="translate(1031.0,517.0) scale(1,1.025)" x="0" y="0" font-size="59" text-anchor="start" fill="#000">Ti 2p<tspan font-size="34" dy="19.5">1/2</tspan></text>
<text transform="translate(1418.5,242.5) scale(1,1.025)" x="0" y="0" font-size="59" text-anchor="start" fill="#000">Ti 2p<tspan font-size="35" dy="20.5">3/2</tspan></text>
</g>
</svg></body></html>
